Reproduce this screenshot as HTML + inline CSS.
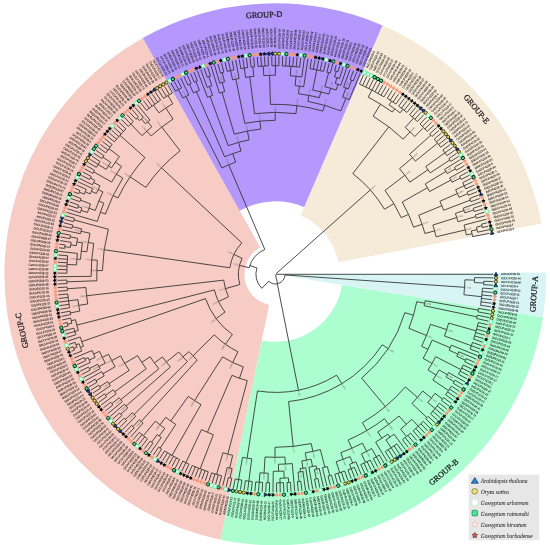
<!DOCTYPE html><html><head><meta charset="utf-8"><style>html,body{margin:0;padding:0;background:#fff;overflow:hidden}svg{display:block;will-change:transform;text-rendering:geometricPrecision}</style></head><body>
<svg width="550" height="545" viewBox="0 0 550 545">
<path d="M542.99 317.16A271.0 271.0 0 0 1 220.44 539.67L261.71 340.4A67.5 67.5 0 0 0 342.05 284.98Z" fill="#acfed0"/>
<path d="M220.44 539.67A271.0 271.0 0 0 1 142.78 37.97L260.23 247.27A31 31 0 0 0 269.11 304.66Z" fill="#f6ccc4"/>
<path d="M142.78 37.97A271.0 271.0 0 0 1 382.59 25.4L304.27 207.25A73 73 0 0 0 239.68 210.64Z" fill="#b598fc"/>
<path d="M382.59 25.4A271.0 271.0 0 0 1 541.6 223.52L338.27 262.31A64 64 0 0 0 300.71 215.52Z" fill="#f6ead8"/>
<path d="M546.39 272.41A271.0 271.0 0 0 1 542.99 317.16L284.88 275.82A9.6 9.6 0 0 0 285 274.23Z" fill="#d9f4f4"/>
<path d="M276 274.3L493.4 274.3M275.53 274.88L277.56 283.65M284.98 274.96A9.6 9.6 0 0 1 268.73 281.21M284.98 274.96L464.55 287.31M464.92 279.82A189.6 189.6 0 0 1 463.89 294.78M464.92 279.82L474.52 280.1M474.57 277.62A199.2 199.2 0 0 1 474.43 282.59M474.57 277.62L493.37 277.93M474.43 282.59L483.72 282.98M483.78 281.24A208.5 208.5 0 0 1 483.64 284.71M483.78 281.24L493.28 281.56M483.64 284.71L493.13 285.19M463.89 294.78L481.69 296.71M482.44 288.11A207.5 207.5 0 0 1 480.57 305.28M482.44 288.11L492.92 288.81M482.18 291.56L492.64 292.43M481.87 295L492.31 296.04M481.49 298.43L491.92 299.65M481.06 301.86L491.47 303.25M480.57 305.28L490.96 306.85M277.27 283.72L298.44 390.03M336.63 375.17A118 118 0 0 1 257.46 390.93M336.63 375.17L341.82 383.72M382.28 344.74A128 128 0 0 1 288.58 401.62M382.28 344.74L388.12 348.59M404.83 312.66A135 135 0 0 1 361.69 378.12M404.83 312.66L413.46 315.22M416.77 301.71A144 144 0 0 1 408.87 328.35M416.77 301.71L424.62 303.23M425.08 300.74A152 152 0 0 1 424.12 305.71M425.08 300.74L478.26 310.13M478.55 308.44A206 206 0 0 1 477.95 311.82M478.55 308.44L490.38 310.43M477.95 311.82L489.75 314.01M424.12 305.71L476.95 316.87M477.3 315.19A206 206 0 0 1 476.59 318.54M477.3 315.19L489.06 317.57M476.59 318.54L488.31 321.12M408.87 328.35L426.48 335.49M430.52 324.37A163 163 0 0 1 421.65 346.28M430.52 324.37L446.7 329.59M448.65 323.13A180 180 0 0 1 444.51 335.97M448.65 323.13L476.13 330.88M478.31 322.48A208.55 208.55 0 0 1 473.6 339.18M478.31 322.48L487.5 324.66M477.48 325.85L486.64 328.19M476.59 329.21L485.71 331.69M475.65 332.55L484.72 335.19M474.65 335.88L483.68 338.67M473.6 339.18L482.58 342.12M444.51 335.97L471.33 345.75M472.49 342.48A208.55 208.55 0 0 1 470.11 349M472.49 342.48L481.42 345.56M471.33 345.75L480.21 348.99M470.11 349L478.94 352.39M421.65 346.28L427.93 349.37M432.14 340.12A170 170 0 0 1 423.16 358.36M432.14 340.12L450.26 347.72M451.31 345.17A189.65 189.65 0 0 1 449.17 350.26M451.31 345.17L477.61 355.76M449.17 350.26L457.83 354.05M458.81 351.77A199.1 199.1 0 0 1 456.82 356.32M458.81 351.77L476.22 359.12M456.82 356.32L465.43 360.21M466.14 358.63A208.55 208.55 0 0 1 464.71 361.79M466.14 358.63L474.78 362.45M464.71 361.79L473.29 365.76M423.16 358.36L432.03 363.4M435.69 356.64A180.2 180.2 0 0 1 428.09 370M435.69 356.64L460.9 369.6M463.23 364.93A208.55 208.55 0 0 1 458.47 374.2M463.23 364.93L471.74 369.04M461.69 368.05L470.13 372.3M460.1 371.14L468.47 375.53M458.47 374.2L466.76 378.73M428.09 370L436.09 375.02M439.16 369.96A189.65 189.65 0 0 1 432.87 379.99M439.16 369.96L447.32 374.72M448.56 372.57A199.1 199.1 0 0 1 446.05 376.86M448.56 372.57L465 381.9M446.05 376.86L454.15 381.73M455.04 380.24A208.55 208.55 0 0 1 453.25 383.22M455.04 380.24L463.18 385.04M453.25 383.22L461.31 388.15M432.87 379.99L448.56 390.52M451.41 386.16A208.55 208.55 0 0 1 445.61 394.81M451.41 386.16L459.39 391.23M449.52 389.08L457.41 394.28M447.59 391.96L455.39 397.29M445.61 394.81L453.32 400.27M361.69 378.12L385.35 406.57M405.4 386.93A172 172 0 0 1 362.37 422.69M405.4 386.93L417.49 397.4M422.73 391.08A188 188 0 0 1 411.98 403.49M422.73 391.08L431.43 397.97M434.97 393.37A199.1 199.1 0 0 1 427.76 402.46M434.97 393.37L442.54 399.02M443.58 397.63A208.55 208.55 0 0 1 441.5 400.41M443.58 397.63L451.2 403.22M441.5 400.41L449.03 406.13M427.76 402.46L435 408.55M439.38 403.16A208.55 208.55 0 0 1 430.44 413.79M439.38 403.16L446.81 409M437.21 405.87L444.54 411.83M435 408.55L442.23 414.63M432.74 411.19L439.87 417.39M430.44 413.79L437.46 420.11M411.98 403.49L426.9 417.62M428.09 416.35A208.55 208.55 0 0 1 425.71 418.87M428.09 416.35L435.01 422.79M425.71 418.87L432.52 425.42M362.37 422.69L366.92 430.46M384.46 418.76A181 181 0 0 1 348.14 440.04M384.46 418.76L388.67 424.34M399 415.96A188 188 0 0 1 377.78 431.98M399 415.96L406.3 424.32M411.82 419.31A199.1 199.1 0 0 1 400.59 429.12M411.82 419.31L418.3 426.2M423.28 421.35A208.55 208.55 0 0 1 413.16 430.87M423.28 421.35L429.98 428.02M420.81 423.8L427.4 430.57M418.3 426.2L424.78 433.08M415.75 428.56L422.11 435.55M413.16 430.87L419.41 437.97M400.59 429.12L406.53 436.47M410.54 433.14A208.55 208.55 0 0 1 402.44 439.69M410.54 433.14L416.66 440.34M407.87 435.37L413.88 442.67M405.17 437.55L411.05 444.95M402.44 439.69L408.19 447.19M377.78 431.98L381.87 438.27M387.93 434.16A195.5 195.5 0 0 1 375.65 442.14M387.93 434.16L390 437.11M394.03 434.2A199.1 199.1 0 0 1 385.9 439.92M394.03 434.2L405.3 449.37M385.9 439.92L391.15 447.78M396.86 443.83A208.55 208.55 0 0 1 385.31 451.54M396.86 443.83L402.36 451.51M394.02 445.83L399.39 453.6M391.15 447.78L396.39 455.64M388.24 449.68L393.36 457.63M385.31 451.54L390.29 459.57M375.65 442.14L387.19 461.46M348.14 440.04L351.75 448.28M362.46 443.18A190 190 0 0 1 340.75 452.71M362.46 443.18L366.63 451.27M371.75 448.54A199.1 199.1 0 0 1 361.43 453.85M371.75 448.54L376.32 456.81M379.34 455.1A208.55 208.55 0 0 1 373.27 458.46M379.34 455.1L384.05 463.29M376.32 456.81L380.89 465.08M373.27 458.46L377.7 466.81M361.43 453.85L365.52 462.37M370.19 460.06A208.55 208.55 0 0 1 360.79 464.57M370.19 460.06L374.48 468.48M367.08 461.62L371.24 470.11M363.95 463.12L367.96 471.67M360.79 464.57L364.66 473.19M340.75 452.71L343.15 459.28M350.03 456.61A197 197 0 0 1 336.18 461.69M350.03 456.61L352.69 463.09M355.82 461.78A204 204 0 0 1 349.53 464.35M355.82 461.78L361.34 474.65M349.53 464.35L351.19 468.59M354.41 467.3A208.55 208.55 0 0 1 347.94 469.83M354.41 467.3L357.99 476.05M351.19 468.59L354.62 477.4M347.94 469.83L351.23 478.69M336.18 461.69L339.74 472.68M344.67 471.01A208.55 208.55 0 0 1 334.77 474.22M344.67 471.01L347.81 479.92M341.39 472.13L344.38 481.1M338.09 473.21L340.93 482.22M334.77 474.22L337.46 483.28M288.58 401.62L293.21 446.38M311.21 443.55A173 173 0 0 1 275.02 447.3M311.21 443.55L312.87 451.38M320.39 449.62A181 181 0 0 1 305.28 452.82M320.39 449.62L324.89 467.15M327.29 466.52A199.1 199.1 0 0 1 322.48 467.75M327.29 466.52L329.75 475.64M331.43 475.18A208.55 208.55 0 0 1 328.08 476.09M331.43 475.18L333.97 484.29M328.08 476.09L330.46 485.23M322.48 467.75L326.94 486.12M305.28 452.82L306.5 460.11M311.13 459.28A188.4 188.4 0 0 1 301.85 460.83M311.13 459.28L312.54 466.55M316.13 465.82A195.8 195.8 0 0 1 308.93 467.21M316.13 465.82L316.82 469.04M319.25 468.51A199.1 199.1 0 0 1 314.38 469.55M319.25 468.51L323.41 486.95M314.38 469.55L316.23 478.81M317.94 478.47A208.55 208.55 0 0 1 314.53 479.15M317.94 478.47L319.86 487.72M314.53 479.15L316.3 488.43M308.93 467.21L312.73 489.08M301.85 460.83L302.89 468.16M305.71 467.74A195.8 195.8 0 0 1 300.06 468.54M305.71 467.74L309.15 489.67M300.06 468.54L300.48 471.81M302.95 471.49A199.1 199.1 0 0 1 298.01 472.11M302.95 471.49L305.56 490.2M298.01 472.11L299.09 481.5M300.81 481.3A208.55 208.55 0 0 1 297.36 481.69M300.81 481.3L301.96 490.68M297.36 481.69L298.35 491.09M275.02 447.3L274.99 457.3M284.99 457.05A183 183 0 0 1 265 457M284.99 457.05L285.35 464.04M292.26 463.55A190 190 0 0 1 278.44 464.28M292.26 463.55L294.74 491.44M278.44 464.28L278.55 471.27M283.88 471.12A197 197 0 0 1 273.22 471.29M283.88 471.12L284.18 478.11M288.42 477.88A204 204 0 0 1 279.94 478.25M288.42 477.88L288.71 482.42M290.44 482.31A208.55 208.55 0 0 1 286.98 482.53M290.44 482.31L291.12 491.73M286.98 482.53L287.5 491.96M279.94 478.25L280.04 482.8M283.51 482.69A208.55 208.55 0 0 1 276.56 482.85M283.51 482.69L283.87 492.14M280.04 482.8L280.25 492.25M276.56 482.85L276.62 492.3M273.22 471.29L272.99 492.29M265 457L264.09 473.08M268.23 473.27A199.1 199.1 0 0 1 259.95 472.8M268.23 473.27L267.88 482.71M269.62 482.77A208.55 208.55 0 0 1 266.15 482.64M269.62 482.77L269.36 492.22M266.15 482.64L265.73 492.09M259.95 472.8L259.22 482.22M262.68 482.46A208.55 208.55 0 0 1 255.76 481.92M262.68 482.46L262.11 491.89M259.22 482.22L258.48 491.64M255.76 481.92L254.87 491.33M257.46 390.93L247.13 458.14M251.73 458.79A186 186 0 0 1 242.54 457.37M251.73 458.79L248.86 481.15M252.3 481.57A208.55 208.55 0 0 1 245.42 480.68M252.3 481.57L251.26 490.96M248.86 481.15L247.65 490.53M245.42 480.68L244.06 490.03M242.54 457.37L238.56 479.57M241.98 480.16A208.55 208.55 0 0 1 235.15 478.93M241.98 480.16L240.47 489.48M238.56 479.57L236.89 488.87M235.15 478.93L233.32 488.2M268.73 281.21L261.85 288.33M261.85 288.33A19.5 19.5 0 0 1 256.96 267.95M256.96 267.95L249.87 265.51M249.2 267.77A27 27 0 0 1 264.8 249.47M249.2 267.77L239.5 265.35M239.84 284.52A37 37 0 0 1 242.04 258.3M239.84 284.52L225.42 288.66M228.5 296.75A52 52 0 0 1 223.73 280.17M228.5 296.75L218.58 301.5M224.96 312.05A63 63 0 0 1 214.37 289.92M224.96 312.05L216.15 318.64M232.36 334.49A74 74 0 0 1 205.51 298.62M232.36 334.49L225.38 344.26M237.91 351.7A86 86 0 0 1 214.28 334.8M237.91 351.7L232.68 362.5M243.4 366.93A98 98 0 0 1 222.57 356.84M243.4 366.93L239.48 378.27M247.25 380.64A110 110 0 0 1 231.9 375.33M247.25 380.64L227.81 454.11M232.69 455.33A186 186 0 0 1 222.96 452.75M232.69 455.33L229.68 468.08M232.1 468.64A199.1 199.1 0 0 1 227.26 467.49M232.1 468.64L230.05 477.86M231.75 478.23A208.55 208.55 0 0 1 228.36 477.47M231.75 478.23L229.77 487.47M228.36 477.47L226.22 486.68M227.26 467.49L222.7 485.83M222.96 452.75L216.6 474.39M221.62 475.8A208.55 208.55 0 0 1 211.62 472.86M221.62 475.8L219.18 484.93M218.27 474.87L215.68 483.96M214.94 473.89L212.2 482.94M211.62 472.86L208.73 481.86M231.9 375.33L207.39 432.28M213.35 434.72A172 172 0 0 1 201.52 429.62M213.35 434.72L200.17 468.81M208.33 471.77A208.55 208.55 0 0 1 192.14 465.51M208.33 471.77L205.29 480.72M205.05 470.63L201.86 479.52M201.79 469.43L198.45 478.27M198.55 468.17L195.07 476.96M195.33 466.87L191.7 475.59M192.14 465.51L188.36 474.17M201.52 429.62L185.82 462.63M188.96 464.09A208.55 208.55 0 0 1 182.69 461.11M188.96 464.09L185.05 472.69M185.82 462.63L181.76 471.16M182.69 461.11L178.49 469.58M222.57 356.84L194.53 400.63M201.01 404.55A150 150 0 0 1 188.26 396.39M201.01 404.55L171.97 455.39M179.6 459.54A208.55 208.55 0 0 1 164.52 450.93M179.6 459.54L175.25 467.94M176.52 457.92L172.04 466.24M173.48 456.25L168.86 464.49M170.47 454.53L165.71 462.69M167.48 452.75L162.59 460.84M164.52 450.93L159.5 458.94M188.26 396.39L170.72 420.97M175.81 424.48A180.2 180.2 0 0 1 165.74 417.29M175.81 424.48L160.15 448.11M161.6 449.06A208.55 208.55 0 0 1 158.7 447.14M161.6 449.06L156.44 456.98M158.7 447.14L153.41 454.98M165.74 417.29L159.99 424.79M164.74 428.32A189.65 189.65 0 0 1 155.35 421.12M164.74 428.32L159.23 436M161.26 437.43A199.1 199.1 0 0 1 157.22 434.53M161.26 437.43L150.42 452.92M157.22 434.53L151.61 442.14M153.01 443.16A208.55 208.55 0 0 1 150.22 441.1M153.01 443.16L147.47 450.81M150.22 441.1L144.55 448.66M155.35 421.12L143.38 435.75M147.46 438.99A208.55 208.55 0 0 1 139.39 432.4M147.46 438.99L141.66 446.46M144.73 436.84L138.81 444.21M142.05 434.64L136 441.91M139.39 432.4L133.23 439.56M214.28 334.8L192.96 355.91M197.22 360A116 116 0 0 1 188.91 351.6M197.22 360L141.21 421.39M143.06 423.05A199.1 199.1 0 0 1 139.39 419.7M143.06 423.05L130.5 437.17M139.39 419.7L132.93 426.6M134.21 427.78A208.55 208.55 0 0 1 131.67 425.41M134.21 427.78L127.81 434.74M131.67 425.41L125.16 432.26M188.91 351.6L182.95 356.93M187.36 361.62A124 124 0 0 1 178.78 352.02M187.36 361.62L134.04 414.5M135.8 416.26A199.1 199.1 0 0 1 132.3 412.73M135.8 416.26L122.55 429.73M132.3 412.73L125.51 419.3M126.72 420.54A208.55 208.55 0 0 1 124.3 418.05M126.72 420.54L119.98 427.17M124.3 418.05L117.46 424.56M178.78 352.02L166.32 362.05M170.43 366.93A140 140 0 0 1 162.43 356.99M170.43 366.93L126.11 406.03M127.77 407.89A199.1 199.1 0 0 1 124.48 404.16M127.77 407.89L120.76 414.23M121.93 415.51A208.55 208.55 0 0 1 119.6 412.94M121.93 415.51L114.98 421.91M119.6 412.94L112.54 419.22M124.48 404.16L110.15 416.49M162.43 356.99L154.36 362.9M158.89 368.78A150 150 0 0 1 150.13 356.8M158.89 368.78L120.76 399.71M122.34 401.63A199.1 199.1 0 0 1 119.2 397.76M122.34 401.63L107.81 413.71M119.2 397.76L111.79 403.62M112.87 404.98A208.55 208.55 0 0 1 110.72 402.26M112.87 404.98L105.51 410.9M110.72 402.26L103.26 408.06M150.13 356.8L141.78 362.3M146.25 368.75A160 160 0 0 1 137.62 355.65M146.25 368.75L114.69 391.83M116.17 393.83A199.1 199.1 0 0 1 113.23 389.81M116.17 393.83L101.05 405.17M113.23 389.81L105.54 395.29M106.55 396.7A208.55 208.55 0 0 1 104.54 393.88M106.55 396.7L98.9 402.25M104.54 393.88L96.79 399.29M137.62 355.65L124.7 363.27M129.16 370.42A175 175 0 0 1 120.6 355.92M129.16 370.42L109.02 383.66M110.4 385.73A199.1 199.1 0 0 1 107.67 381.57M110.4 385.73L94.74 396.3M107.67 381.57L99.71 386.66M100.65 388.12A208.55 208.55 0 0 1 98.78 385.19M100.65 388.12L92.73 393.28M98.78 385.19L90.77 390.22M120.6 355.92L111.75 360.58M115.15 366.73A185 185 0 0 1 108.59 354.31M115.15 366.73L102.93 373.78M104.19 375.93A199.1 199.1 0 0 1 101.7 371.62M104.19 375.93L96.06 380.75M96.96 382.24A208.55 208.55 0 0 1 95.18 379.25M96.96 382.24L88.87 387.13M95.18 379.25L87.02 384.01M101.7 371.62L85.22 380.86M108.59 354.31L102.28 357.33M105.24 363.23A192 192 0 0 1 99.53 351.34M105.24 363.23L98.94 366.52M100.11 368.71A199.1 199.1 0 0 1 97.81 364.31M100.11 368.71L83.47 377.67M97.81 364.31L89.38 368.58M90.17 370.12A208.55 208.55 0 0 1 88.6 367.03M90.17 370.12L81.77 374.46M88.6 367.03L80.13 371.23M99.53 351.34L93.58 353.95M95.1 357.34A198.5 198.5 0 0 1 92.12 350.53M95.1 357.34L89.2 360.06M90.29 362.38A205 205 0 0 1 88.14 357.73M90.29 362.38L78.55 367.96M88.14 357.73L84.9 359.17M85.61 360.75A208.55 208.55 0 0 1 84.2 357.58M85.61 360.75L77.01 364.67M84.2 357.58L75.54 361.36M92.12 350.53L74.12 358.02M205.51 298.62L81.78 341.66M83.45 346.28A205 205 0 0 1 80.23 337.01M83.45 346.28L80.41 347.42M81.81 351.06A208.25 208.25 0 0 1 79.07 343.75M81.81 351.06L72.75 354.65M79.07 343.75L76.01 344.84M76.91 347.32A211.5 211.5 0 0 1 75.14 342.34M76.91 347.32L73.86 348.44M74.48 350.12A214.75 214.75 0 0 1 73.25 346.76M74.48 350.12L71.44 351.27M73.25 346.76L70.19 347.86M75.14 342.34L68.99 344.43M80.23 337.01L67.85 340.99M214.37 289.92L76.8 325.12M78.25 330.48A205 205 0 0 1 75.5 319.73M78.25 330.48L74.83 331.45M75.81 334.78A208.55 208.55 0 0 1 73.91 328.1M75.81 334.78L66.77 337.52M74.83 331.45L65.75 334.04M73.91 328.1L64.78 330.54M75.5 319.73L71.27 320.69M71.87 323.24A209.33 209.33 0 0 1 70.71 318.14M71.87 323.24L67.65 324.25M68.08 325.98A213.67 213.67 0 0 1 67.25 322.52M68.08 325.98L63.87 327.03M67.25 322.52L63.02 323.5M70.71 318.14L62.23 319.95M223.73 280.17L86.62 295.75M87.73 303.98A190 190 0 0 1 85.86 287.48M87.73 303.98L78.74 305.4M79.73 311.12A199.1 199.1 0 0 1 77.92 299.66M79.73 311.12L70.45 312.87M70.78 314.57A208.55 208.55 0 0 1 70.13 311.16M70.78 314.57L61.5 316.4M70.13 311.16L60.83 312.83M77.92 299.66L68.55 300.86M69.55 307.74A208.55 208.55 0 0 1 67.78 293.96M69.55 307.74L60.22 309.25M69.02 304.31L59.67 305.66M68.55 300.86L59.18 302.07M68.14 297.42L58.74 298.46M67.78 293.96L58.37 294.85M85.86 287.48L67.35 288.77M67.48 290.5A208.55 208.55 0 0 1 67.24 287.04M67.48 290.5L58.06 291.24M67.24 287.04L57.81 287.62M242.04 258.3L233.92 254.41M229.87 267.77A46 46 0 0 1 241.81 242.87M229.87 267.77L104.15 249.75M102.44 270.63A173 173 0 0 1 108.37 229.23M102.44 270.63L96.82 270.51M96.89 280.75A178.62 178.62 0 0 1 97.33 260.28M96.89 280.75L66.99 281.84M67.06 283.57A208.55 208.55 0 0 1 66.93 280.1M67.06 283.57L57.62 283.99M66.93 280.1L57.48 280.36M97.33 260.28L91.72 259.83M91.16 276.36A184.25 184.25 0 0 1 93.75 243.43M91.16 276.36L57.41 276.73M93.75 243.43L88.21 242.48M86.87 251.77A189.88 189.88 0 0 1 90.01 233.27M86.87 251.77L81.28 251.11M80.47 259.41A195.5 195.5 0 0 1 82.45 242.85M80.47 259.41L76.88 259.13M76.52 264.92A199.1 199.1 0 0 1 77.4 253.36M76.52 264.92L67.08 264.48M66.85 273.16A208.55 208.55 0 0 1 67.67 255.82M66.85 273.16L57.4 273.1M66.9 269.68L57.45 269.47M67.01 266.21L57.56 265.85M67.17 262.74L57.73 262.22M67.39 259.28L57.97 258.6M67.67 255.82L58.26 254.98M77.4 253.36L58.61 251.37M82.45 242.85L76.9 241.94M76.32 245.67A201.12 201.12 0 0 1 77.54 238.23M76.32 245.67L70.76 244.86M70.4 247.42A206.75 206.75 0 0 1 71.14 242.31M70.4 247.42L64.83 246.69M64.6 248.45A212.38 212.38 0 0 1 65.06 244.94M64.6 248.45L59.02 247.76M65.06 244.94L59.49 244.16M71.14 242.31L60.03 240.57M77.54 238.23L70.23 236.9M69.93 238.61A208.55 208.55 0 0 1 70.55 235.19M69.93 238.61L60.62 236.99M70.55 235.19L61.27 233.42M90.01 233.27L81 231.28M80.48 233.71A199.1 199.1 0 0 1 81.56 228.86M80.48 233.71L61.98 229.86M81.56 228.86L72.36 226.7M71.97 228.39A208.55 208.55 0 0 1 72.76 225.01M71.97 228.39L62.75 226.31M72.76 225.01L63.58 222.78M108.37 229.23L74.05 219.96M73.61 221.64A208.55 208.55 0 0 1 74.51 218.29M73.61 221.64L64.46 219.26M74.51 218.29L65.41 215.75M241.81 242.87L161.48 167.73M145.83 187.42A156 156 0 0 1 180.09 150.8M145.83 187.42L130.05 176.84M117.94 197.94A175 175 0 0 1 144.97 157.62M117.94 197.94L113.1 195.59M105.4 214A180.38 180.38 0 0 1 122.79 178.14M105.4 214L100.34 212.21M97.33 221.44A185.75 185.75 0 0 1 103.82 203.14M97.33 221.44L66.41 212.26M103.82 203.14L98.86 201.08M95.25 210.46A191.12 191.12 0 0 1 102.95 191.91M95.25 210.46L88.92 208.21M87.46 212.5A197.84 197.84 0 0 1 90.48 203.96M87.46 212.5L81.07 210.4M80.29 212.83A204.56 204.56 0 0 1 81.89 207.98M80.29 212.83L67.47 208.79M81.89 207.98L78.12 206.68M77.56 208.33A208.55 208.55 0 0 1 78.69 205.04M77.56 208.33L68.59 205.34M78.69 205.04L69.77 201.91M90.48 203.96L80.48 200.15M79.87 201.78A208.55 208.55 0 0 1 81.1 198.53M79.87 201.78L71.01 198.49M81.1 198.53L72.3 195.1M102.95 191.91L98.1 189.59M96.29 193.49A196.5 196.5 0 0 1 99.99 185.74M96.29 193.49L91.39 191.27M90.2 193.96A201.88 201.88 0 0 1 92.62 188.6M90.2 193.96L85.27 191.83M84.25 194.21A207.25 207.25 0 0 1 86.31 189.46M84.25 194.21L79.29 192.13M78.62 193.76A212.62 212.62 0 0 1 79.99 190.5M78.62 193.76L73.64 191.73M79.99 190.5L75.05 188.38M86.31 189.46L76.5 185.06M92.62 188.6L78.02 181.76M99.99 185.74L93.59 182.51M92.46 184.78A203.67 203.67 0 0 1 94.75 180.24M92.46 184.78L79.59 178.48M94.75 180.24L90.42 177.99M89.63 179.53A208.55 208.55 0 0 1 91.23 176.45M89.63 179.53L81.21 175.24M91.23 176.45L82.88 172.02M122.79 178.14L116.43 174.13M111.72 182.02A187.9 187.9 0 0 1 121.51 166.48M111.72 182.02L93.73 171.88M92.88 173.4A208.55 208.55 0 0 1 94.59 170.37M92.88 173.4L84.61 168.83M94.59 170.37L86.4 165.66M121.51 166.48L115.35 162.16M111.48 167.89A195.43 195.43 0 0 1 119.42 156.57M111.48 167.89L108.4 165.89M106.18 169.39A199.1 199.1 0 0 1 110.69 162.44M106.18 169.39L98.15 164.41M96.35 167.38A208.55 208.55 0 0 1 100 161.47M96.35 167.38L88.23 162.53M98.15 164.41L90.12 159.43M100 161.47L92.06 156.36M110.69 162.44L102.88 157.13M101.91 158.57A208.55 208.55 0 0 1 103.86 155.7M101.91 158.57L94.05 153.33M103.86 155.7L96.09 150.32M119.42 156.57L108.94 148.66M105.86 152.86A208.55 208.55 0 0 1 112.13 144.54M105.86 152.86L98.17 147.35M107.9 150.05L100.31 144.42M109.99 147.28L102.5 141.52M112.13 144.54L104.73 138.66M144.97 157.62L119.97 135.25M114.32 141.84A208.55 208.55 0 0 1 125.89 128.91M114.32 141.84L107.02 135.84M116.54 139.18L109.35 133.06M118.82 136.55L111.72 130.31M121.13 133.96L114.14 127.61M123.49 131.42L116.61 124.94M125.89 128.91L119.11 122.32M180.09 150.8L161.76 127.05M151.13 135.91A186 186 0 0 1 173.02 119.01M151.13 135.91L146.85 131.15M142.01 135.65A192.4 192.4 0 0 1 151.84 126.82M142.01 135.65L130.81 124.01M128.33 126.44A208.55 208.55 0 0 1 133.34 121.62M128.33 126.44L121.67 119.74M130.81 124.01L124.26 117.2M133.34 121.62L126.9 114.7M151.84 126.82L147.73 121.91M145.52 123.79A198.8 198.8 0 0 1 149.96 120.07M145.52 123.79L141.34 118.94M139.41 120.63A205.2 205.2 0 0 1 143.29 117.28M139.41 120.63L137.19 118.12M135.9 119.28A208.55 208.55 0 0 1 138.5 116.98M135.9 119.28L129.58 112.25M138.5 116.98L132.29 109.85M143.29 117.28L135.05 107.49M149.96 120.07L137.85 105.17M173.02 119.01L165.81 108.08M158.98 112.78A199.1 199.1 0 0 1 172.82 103.66M158.98 112.78L153.46 105.11M146.52 110.34A208.55 208.55 0 0 1 160.61 100.19M146.52 110.34L140.68 102.91M149.27 108.21L143.56 100.69M152.06 106.14L146.47 98.52M154.87 104.11L149.41 96.39M157.72 102.12L152.39 94.32M160.61 100.19L155.4 92.3M172.82 103.66L167.95 95.56M163.52 98.3A208.55 208.55 0 0 1 172.45 92.93M163.52 98.3L158.45 90.32M166.47 96.46L161.53 88.4M169.44 94.67L164.64 86.53M172.45 92.93L167.78 84.71M264.8 249.47L228.7 164.85M221.9 168.01A119 119 0 0 1 235.69 162.12M221.9 168.01L185.88 96.46M182.93 97.97A199.1 199.1 0 0 1 188.86 94.99M182.93 97.97L178.54 89.61M175.48 91.24A208.55 208.55 0 0 1 181.63 88.02M175.48 91.24L170.96 82.95M178.54 89.61L174.16 81.24M181.63 88.02L177.38 79.58M188.86 94.99L180.64 77.97M235.69 162.12L232.69 153.64M224.61 156.81A128 128 0 0 1 240.97 151.02M224.61 156.81L196.39 91.55M193.36 92.89A199.1 199.1 0 0 1 199.45 90.26M193.36 92.89L189.47 84.28M187.89 85A208.55 208.55 0 0 1 191.05 83.57M187.89 85L183.92 76.42M191.05 83.57L187.23 74.93M199.45 90.26L195.84 81.52M194.24 82.19A208.55 208.55 0 0 1 197.45 80.87M194.24 82.19L190.56 73.49M197.45 80.87L193.92 72.1M240.97 151.02L238.55 142.35M228.18 145.69A137 137 0 0 1 249.14 139.84M228.18 145.69L210.04 96.27M207.45 97.24A189.65 189.65 0 0 1 212.64 95.34M207.45 97.24L197.3 70.77M212.64 95.34L209.51 86.42M207.17 87.26A199.1 199.1 0 0 1 211.86 85.61M207.17 87.26L200.69 69.5M211.86 85.61L208.85 76.65M207.21 77.21A208.55 208.55 0 0 1 210.5 76.11M207.21 77.21L204.12 68.28M210.5 76.11L207.56 67.13M249.14 139.84L247.41 131.01M234.32 134.2A146 146 0 0 1 260.75 129.04M234.32 134.2L222.03 92.31M219.39 93.11A189.65 189.65 0 0 1 224.69 91.56M219.39 93.11L211.01 66.03M224.69 91.56L222.16 82.45M219.77 83.13A199.1 199.1 0 0 1 224.56 81.8M219.77 83.13L214.49 64.98M224.56 81.8L222.15 72.66M220.47 73.11A208.55 208.55 0 0 1 223.83 72.23M220.47 73.11L217.98 64M223.83 72.23L221.49 63.07M260.75 129.04L259.95 121.08M244.82 123.37A154 154 0 0 1 275.23 120.3M244.82 123.37L235.86 79.17M232.62 79.85A199.1 199.1 0 0 1 239.12 78.53M232.62 79.85L230.59 70.62M227.2 71.4A208.55 208.55 0 0 1 233.99 69.9M227.2 71.4L225.02 62.2M230.59 70.62L228.56 61.39M233.99 69.9L232.11 60.64M239.12 78.53L235.67 59.95M275.23 120.3L275.22 112.3M254.54 113.65A162 162 0 0 1 295.91 113.6M254.54 113.65L249.76 76.86M245.65 77.43A199.1 199.1 0 0 1 253.87 76.37M245.65 77.43L244.24 68.09M240.81 68.64A208.55 208.55 0 0 1 247.68 67.6M240.81 68.64L239.25 59.32M244.24 68.09L242.83 58.75M247.68 67.6L246.42 58.23M253.87 76.37L252.85 66.97M251.13 67.17A208.55 208.55 0 0 1 254.58 66.79M251.13 67.17L250.03 57.78M254.58 66.79L253.64 57.39M295.91 113.6L296.92 105.67M270.43 104.37A170 170 0 0 1 322.89 111.07M270.43 104.37L269.58 75.29M263.78 75.54A199.1 199.1 0 0 1 275.38 75.2M263.78 75.54L263.23 66.11M258.04 66.47A208.55 208.55 0 0 1 268.44 65.87M258.04 66.47L257.25 57.06M261.5 66.21L260.87 56.78M264.97 66.01L264.49 56.57M268.44 65.87L268.12 56.42M275.38 75.2L275.38 65.75M271.91 65.78A208.55 208.55 0 0 1 278.85 65.78M271.91 65.78L271.75 56.33M275.38 65.75L275.38 56.3M278.85 65.78L279.01 56.33M322.89 111.07L324.56 105.31M307.84 101.32A176 176 0 0 1 340.81 110.91M307.84 101.32L308.95 95.42M298.43 93.76A182 182 0 0 1 319.36 97.69M298.43 93.76L299.4 86.17M295.08 85.67A189.65 189.65 0 0 1 303.7 86.77M295.08 85.67L296.06 76.28M290.29 75.76A199.1 199.1 0 0 1 301.82 76.96M290.29 75.76L290.99 66.33M282.32 65.86A208.55 208.55 0 0 1 299.63 67.16M282.32 65.86L282.64 56.42M285.79 66.01L286.26 56.57M289.26 66.21L289.89 56.78M292.72 66.47L293.51 57.05M296.18 66.79L297.12 57.38M299.63 67.16L300.73 57.78M301.82 76.96L304.33 58.23M303.7 86.77L307.93 58.74M319.36 97.69L320.81 91.87M312.7 90.04A188 188 0 0 1 328.83 94.05M312.7 90.04L316.77 69.9M309.95 68.63A208.55 208.55 0 0 1 323.56 71.39M309.95 68.63L311.51 59.31M313.37 69.23L315.09 59.94M316.77 69.9L318.65 60.63M320.17 70.61L322.2 61.38M323.56 71.39L325.74 62.19M328.83 94.05L330.54 88.3M324.9 86.72A194 194 0 0 1 336.12 90.05M324.9 86.72L328.61 72.65M326.93 72.22A208.55 208.55 0 0 1 330.29 73.1M326.93 72.22L329.26 63.06M330.29 73.1L332.77 63.99M336.12 90.05L338 84.35M335.23 83.46A200 200 0 0 1 340.76 85.28M335.23 83.46L337.02 77.73M334.56 76.98A206 206 0 0 1 339.47 78.52M334.56 76.98L336.29 71.23M334.59 70.73A212 212 0 0 1 337.97 71.75M334.59 70.73L336.27 64.97M337.97 71.75L339.74 66.01M339.47 78.52L343.2 67.11M340.76 85.28L346.64 68.27M340.81 110.91L345.89 98.23M342.58 96.95A189.65 189.65 0 0 1 349.17 99.59M342.58 96.95L345.92 88.11M343.59 87.24A199.1 199.1 0 0 1 348.24 89M343.59 87.24L350.07 69.49M348.24 89L351.7 80.21M350.08 79.58A208.55 208.55 0 0 1 353.31 80.85M350.08 79.58L353.47 70.76M353.31 80.85L356.84 72.08M349.17 99.59L360.2 73.47M275.85 273.9L370.32 189.92M352.82 173.62A127 127 0 0 1 384.46 209.22M352.82 173.62L388.78 126.85M373.18 116.08A186 186 0 0 1 403.21 139.16M373.18 116.08L380.54 104.17M368.25 97.16A200 200 0 0 1 392.31 112.03M368.25 97.16L371.96 90.07M359.49 84.06A208 208 0 0 1 384.01 96.91M359.49 84.06L363.53 74.91M362.64 85.48L366.84 76.4M365.78 86.96L370.12 77.95M368.88 88.49L373.38 79.56M371.96 90.07L376.61 81.22M375.02 91.71L379.81 82.93M378.04 93.39L382.98 84.69M381.04 95.12L386.12 86.51M384.01 96.91L389.23 88.38M392.31 112.03L394.65 108.78M389.07 104.9A204 204 0 0 1 400.09 112.84M389.07 104.9L391.61 101.13M387.24 98.28A208.55 208.55 0 0 1 395.89 104.08M387.24 98.28L392.31 90.3M390.16 100.16L395.36 92.27M393.04 102.1L398.37 94.3M395.89 104.08L401.35 96.37M400.09 112.84L402.87 109.24M398.71 106.11A208.55 208.55 0 0 1 406.96 112.48M398.71 106.11L404.3 98.49M401.5 108.19L407.21 100.66M404.24 110.31L410.08 102.88M406.96 112.48L412.92 105.15M403.21 139.16L410.08 131.9M405.26 127.49A196 196 0 0 1 414.74 136.46M405.26 127.49L413.58 118.09M409.63 114.69A208.55 208.55 0 0 1 417.43 121.59M409.63 114.69L415.71 107.46M412.27 116.95L418.47 109.82M414.87 119.25L421.19 112.22M417.43 121.59L423.87 114.67M414.74 136.46L423.67 127.64M419.96 123.98A208.55 208.55 0 0 1 427.28 131.39M419.96 123.98L426.51 117.17M422.44 126.41L429.1 119.71M424.88 128.88L431.66 122.29M427.28 131.39L434.17 124.91M384.46 209.22L393.9 203.58M385.01 190.46A138 138 0 0 1 401.23 217.63M385.01 190.46L404.87 175.27M399.54 168.67A163 163 0 0 1 409.84 182.13M399.54 168.67L412.49 157.65M409.53 154.26A180 180 0 0 1 415.36 161.11M409.53 154.26L430.8 135.22M429.64 133.93A208.55 208.55 0 0 1 431.96 136.52M429.64 133.93L436.63 127.57M431.96 136.52L439.05 130.28M415.36 161.11L437.56 143.16M434.23 139.15A208.55 208.55 0 0 1 440.78 147.25M434.23 139.15L441.43 133.02M436.46 141.81L443.76 135.81M438.64 144.51L446.04 138.63M440.78 147.25L448.27 141.49M409.84 182.13L427.99 169.69M425.78 166.54A185 185 0 0 1 430.13 172.89M425.78 166.54L444.92 152.82M442.87 150.02A208.55 208.55 0 0 1 446.92 155.66M442.87 150.02L450.46 144.39M444.92 152.82L452.6 147.32M446.92 155.66L454.69 150.29M430.13 172.89L449.83 159.98M448.87 158.54A208.55 208.55 0 0 1 450.77 161.44M448.87 158.54L456.73 153.29M450.77 161.44L458.72 156.33M401.23 217.63L408.52 214.35M402.27 202.05A146 146 0 0 1 413.59 227.19M402.27 202.05L427.47 187.69M425.26 183.92A175 175 0 0 1 429.58 191.52M425.26 183.92L445.89 171.48M444.6 169.36A199.1 199.1 0 0 1 447.17 173.61M444.6 169.36L460.66 159.39M447.17 173.61L455.32 168.84M454.43 167.34A208.55 208.55 0 0 1 456.19 170.34M454.43 167.34L462.55 162.5M456.19 170.34L464.38 165.63M429.58 191.52L450.82 180.12M449.63 177.94A199.1 199.1 0 0 1 451.98 182.32M449.63 177.94L466.17 168.79M451.98 182.32L460.36 177.95M459.55 176.41A208.55 208.55 0 0 1 461.16 179.49M459.55 176.41L467.9 171.98M461.16 179.49L469.57 175.2M413.59 227.19L422.11 224.28M418.72 215.26A155 155 0 0 1 424.93 233.5M418.72 215.26L441.83 205.74M439.92 201.27A180 180 0 0 1 443.63 210.27M439.92 201.27L457.37 193.52M455.65 189.75A199.1 199.1 0 0 1 459.02 197.32M455.65 189.75L464.21 185.73M462.71 182.6A208.55 208.55 0 0 1 465.66 188.89M462.71 182.6L471.2 178.45M464.21 185.73L472.76 181.72M465.66 188.89L474.28 185.02M459.02 197.32L467.73 193.67M467.05 192.07A208.55 208.55 0 0 1 468.4 195.27M467.05 192.07L475.74 188.34M468.4 195.27L477.14 191.69M443.63 210.27L470.31 200.11M469.69 198.49A208.55 208.55 0 0 1 470.92 201.74M469.69 198.49L478.49 195.06M470.92 201.74L479.78 198.45M424.93 233.5L434.58 230.87M432.87 225.02A165 165 0 0 1 436.08 236.77M432.87 225.02L456.73 217.55M455.38 213.41A190 190 0 0 1 457.98 221.71M455.38 213.41L464 210.5M463.19 208.15A199.1 199.1 0 0 1 464.78 212.86M463.19 208.15L481.01 201.87M464.78 212.86L473.77 209.94M473.23 208.29A208.55 208.55 0 0 1 474.3 211.59M473.23 208.29L482.19 205.3M474.3 211.59L483.31 208.75M457.98 221.71L475.8 216.58M475.32 214.91A208.55 208.55 0 0 1 476.28 218.25M475.32 214.91L484.37 212.22M476.28 218.25L485.38 215.71M436.08 236.77L465.29 229.95M464.07 225.03A195 195 0 0 1 466.38 234.91M464.07 225.03L486.33 219.22M466.38 234.91L472.01 233.75M471.4 230.89A200.75 200.75 0 0 1 472.58 236.61M471.4 230.89L477.01 229.64M476.44 227.13A206.5 206.5 0 0 1 477.56 232.16M476.44 227.13L482.04 225.81M481.63 224.1A212.25 212.25 0 0 1 482.43 227.54M481.63 224.1L487.21 222.74M482.43 227.54L488.04 226.27M477.56 232.16L488.81 229.82M472.58 236.61L489.52 233.38" fill="none" stroke="#2e2e2e" stroke-width="0.85"/>
<g font-family="Liberation Sans, sans-serif" font-size="2.3" fill="#6a6a6a"><text transform="translate(465.35 287.37) rotate(3.94)" dy="0.8">0.934</text><text transform="translate(298.59 390.81) rotate(78.74)" dy="0.8">0.926</text><text transform="translate(342.24 384.4) rotate(58.74)" dy="0.8">0.878</text><text transform="translate(388.79 349.03) rotate(33.39)" dy="0.8">0.944</text><text transform="translate(425.41 303.38) rotate(10.97)" dy="0.8">0.896</text><text transform="translate(427.22 335.79) rotate(22.05)" dy="0.8">0.971</text><text transform="translate(447.46 329.84) rotate(17.89)" dy="0.8">0.856</text><text transform="translate(458.56 354.37) rotate(23.61)" dy="0.8">0.942</text><text transform="translate(432.72 363.8) rotate(29.63)" dy="0.8">0.852</text><text transform="translate(436.77 375.45) rotate(32.08)" dy="0.8">0.859</text><text transform="translate(448.01 375.13) rotate(30.29)" dy="0.8">0.886</text><text transform="translate(385.86 407.19) rotate(50.27)" dy="0.8">0.920</text><text transform="translate(418.1 397.93) rotate(40.9)" dy="0.8">0.976</text><text transform="translate(432.06 398.47) rotate(38.4)" dy="0.8">0.946</text><text transform="translate(367.32 431.15) rotate(59.63)" dy="0.8">0.949</text><text transform="translate(389.16 424.98) rotate(52.95)" dy="0.8">0.892</text><text transform="translate(352.07 449.02) rotate(66.31)" dy="0.8">0.897</text><text transform="translate(367 451.98) rotate(62.73)" dy="0.8">0.893</text><text transform="translate(343.43 460.03) rotate(69.88)" dy="0.8">0.965</text><text transform="translate(293.3 447.18) rotate(84.09)" dy="0.8">0.977</text><text transform="translate(313.03 452.16) rotate(78.05)" dy="0.8">0.994</text><text transform="translate(306.64 460.9) rotate(80.5)" dy="0.8">0.881</text><text transform="translate(316.99 469.83) rotate(77.99)" dy="0.8">0.997</text><text transform="translate(303 468.95) rotate(81.93)" dy="0.8">0.861</text><text transform="translate(300.58 472.61) rotate(82.76)" dy="0.8">0.967</text><text transform="translate(274.99 458.1) rotate(270.13)" text-anchor="end" dy="0.8">0.863</text><text transform="translate(285.4 464.84) rotate(87)" dy="0.8">0.995</text><text transform="translate(264.04 473.88) rotate(273.26)" text-anchor="end" dy="0.8">0.887</text><text transform="translate(247 458.93) rotate(278.74)" text-anchor="end" dy="0.8">0.859</text><text transform="translate(238.72 265.16) rotate(374)" text-anchor="end" dy="0.8">0.934</text><text transform="translate(224.65 288.88) rotate(343.97)" text-anchor="end" dy="0.8">0.879</text><text transform="translate(217.85 301.85) rotate(334.42)" text-anchor="end" dy="0.8">0.870</text><text transform="translate(215.51 319.12) rotate(323.19)" text-anchor="end" dy="0.8">0.867</text><text transform="translate(224.91 344.91) rotate(305.57)" text-anchor="end" dy="0.8">0.882</text><text transform="translate(232.33 363.22) rotate(295.84)" text-anchor="end" dy="0.8">0.996</text><text transform="translate(227.6 454.88) rotate(284.83)" text-anchor="end" dy="0.8">0.983</text><text transform="translate(229.5 468.86) rotate(283.28)" text-anchor="end" dy="0.8">0.909</text><text transform="translate(194.1 401.31) rotate(302.62)" text-anchor="end" dy="0.8">0.865</text><text transform="translate(159.5 425.43) rotate(307.48)" text-anchor="end" dy="0.8">0.889</text><text transform="translate(192.39 356.47) rotate(315.29)" text-anchor="end" dy="0.8">0.894</text><text transform="translate(140.68 421.98) rotate(312.37)" text-anchor="end" dy="0.8">0.864</text><text transform="translate(182.35 357.47) rotate(318.21)" text-anchor="end" dy="0.8">0.886</text><text transform="translate(133.47 415.07) rotate(315.24)" text-anchor="end" dy="0.8">0.906</text><text transform="translate(165.69 362.55) rotate(321.19)" text-anchor="end" dy="0.8">0.994</text><text transform="translate(125.51 406.56) rotate(318.57)" text-anchor="end" dy="0.8">0.936</text><text transform="translate(120.14 400.21) rotate(320.96)" text-anchor="end" dy="0.8">0.873</text><text transform="translate(124.02 363.68) rotate(329.44)" text-anchor="end" dy="0.8">0.878</text><text transform="translate(108.35 384.1) rotate(326.68)" text-anchor="end" dy="0.8">0.991</text><text transform="translate(111.05 360.96) rotate(332.2)" text-anchor="end" dy="0.8">0.993</text><text transform="translate(101.56 357.68) rotate(334.38)" text-anchor="end" dy="0.8">0.913</text><text transform="translate(98.23 366.89) rotate(332.41)" text-anchor="end" dy="0.8">0.856</text><text transform="translate(85.82 295.84) rotate(353.52)" text-anchor="end" dy="0.8">0.956</text><text transform="translate(77.95 305.53) rotate(351.01)" text-anchor="end" dy="0.8">0.974</text><text transform="translate(233.2 254.06) rotate(385.63)" text-anchor="end" dy="0.8">0.894</text><text transform="translate(103.36 249.63) rotate(368.16)" text-anchor="end" dy="0.8">0.958</text><text transform="translate(96.02 270.49) rotate(361.22)" text-anchor="end" dy="0.8">0.884</text><text transform="translate(90.92 259.77) rotate(364.5)" text-anchor="end" dy="0.8">0.978</text><text transform="translate(87.42 242.35) rotate(369.65)" text-anchor="end" dy="0.8">0.892</text><text transform="translate(76.08 259.07) rotate(364.37)" text-anchor="end" dy="0.8">0.852</text><text transform="translate(80.22 231.11) rotate(372.48)" text-anchor="end" dy="0.8">0.917</text><text transform="translate(160.89 167.18) rotate(403.09)" text-anchor="end" dy="0.8">0.876</text><text transform="translate(129.39 176.39) rotate(393.84)" text-anchor="end" dy="0.8">0.936</text><text transform="translate(112.38 195.24) rotate(385.87)" text-anchor="end" dy="0.8">0.904</text><text transform="translate(88.17 207.94) rotate(379.51)" text-anchor="end" dy="0.8">0.954</text><text transform="translate(97.37 189.25) rotate(385.54)" text-anchor="end" dy="0.8">0.871</text><text transform="translate(115.75 173.7) rotate(392.22)" text-anchor="end" dy="0.8">0.853</text><text transform="translate(107.73 165.46) rotate(392.99)" text-anchor="end" dy="0.8">0.994</text><text transform="translate(161.27 126.42) rotate(412.34)" text-anchor="end" dy="0.8">0.945</text><text transform="translate(146.31 130.55) rotate(408.08)" text-anchor="end" dy="0.8">0.960</text><text transform="translate(147.22 121.3) rotate(410.04)" text-anchor="end" dy="0.8">1.000</text><text transform="translate(165.37 107.41) rotate(416.6)" text-anchor="end" dy="0.8">0.932</text><text transform="translate(228.39 164.11) rotate(426.89)" text-anchor="end" dy="0.8">0.985</text><text transform="translate(185.52 95.74) rotate(423.28)" text-anchor="end" dy="0.8">0.956</text><text transform="translate(238.33 141.58) rotate(434.39)" text-anchor="end" dy="0.8">0.953</text><text transform="translate(247.26 130.22) rotate(438.95)" text-anchor="end" dy="0.8">0.969</text><text transform="translate(221.95 81.68) rotate(434.49)" text-anchor="end" dy="0.8">0.944</text><text transform="translate(259.87 120.28) rotate(444.24)" text-anchor="end" dy="0.8">0.937</text><text transform="translate(235.7 78.38) rotate(438.55)" text-anchor="end" dy="0.8">0.862</text><text transform="translate(275.22 111.5) rotate(449.94)" text-anchor="end" dy="0.8">0.999</text><text transform="translate(297.02 104.87) rotate(277.27)" dy="0.8">0.908</text><text transform="translate(269.56 74.49) rotate(448.32)" text-anchor="end" dy="0.8">0.937</text><text transform="translate(324.79 104.54) rotate(286.22)" dy="0.8">0.976</text><text transform="translate(309.1 94.63) rotate(280.62)" dy="0.8">0.963</text><text transform="translate(299.5 85.38) rotate(277.27)" dy="0.8">0.940</text><text transform="translate(296.15 75.48) rotate(275.96)" dy="0.8">0.885</text><text transform="translate(321 91.09) rotate(283.98)" dy="0.8">0.925</text><text transform="translate(330.76 87.53) rotate(286.51)" dy="0.8">0.988</text><text transform="translate(346.18 97.49) rotate(291.82)" dy="0.8">0.852</text><text transform="translate(346.21 87.36) rotate(290.74)" dy="0.8">0.952</text><text transform="translate(370.92 189.39) rotate(318.37)" dy="0.8">0.875</text><text transform="translate(410.63 131.32) rotate(313.4)" dy="0.8">0.916</text><text transform="translate(405.5 174.78) rotate(322.59)" dy="0.8">0.950</text><text transform="translate(413.1 157.13) rotate(319.6)" dy="0.8">0.915</text><text transform="translate(446.58 171.06) rotate(328.91)" dy="0.8">0.937</text><text transform="translate(451.52 179.74) rotate(331.77)" dy="0.8">0.870</text><text transform="translate(422.87 224.03) rotate(341.17)" dy="0.8">0.976</text><text transform="translate(458.11 193.19) rotate(336.06)" dy="0.8">0.993</text><text transform="translate(435.35 230.66) rotate(344.74)" dy="0.8">0.875</text><text transform="translate(457.49 217.31) rotate(342.62)" dy="0.8">0.891</text><text transform="translate(464.76 210.24) rotate(341.31)" dy="0.8">0.912</text><text transform="translate(466.07 229.77) rotate(346.85)" dy="0.8">0.924</text></g>
<path d="M496 272.3L494.1 275.7L497.9 275.7Z" fill="#12408a" stroke="#050a1e" stroke-width="0.7"/><circle cx="495.97" cy="277.97" r="1.6" fill="#e8d850" stroke="#1a1a08" stroke-width="0.8"/><circle cx="495.88" cy="281.65" r="1.6" fill="#e8d850" stroke="#1a1a08" stroke-width="0.8"/><path d="M495.82 283.32L493.76 286.62L497.55 286.81Z" fill="#12408a" stroke="#050a1e" stroke-width="0.7"/><rect x="493.81" y="287.28" width="3.4" height="3.4" rx="1" transform="rotate(3.82 495.51 288.98)" fill="#f4fff8" stroke="#4ef098" stroke-width="0.9"/><rect x="493.64" y="291.05" width="3.2" height="3.2" rx="1.3" transform="rotate(4.77 495.24 292.65)" fill="#36e88c" stroke="#06140c" stroke-width="0.9"/><polygon points="496.99,296.51 495.98,297.27 495.35,298.35 494.32,297.63 493.09,297.36 493.46,296.16 493.33,294.91 494.59,294.89 495.74,294.38 496.15,295.57" fill="#f59a7e"/><polygon points="496.59,300.2 495.57,300.94 494.92,302.01 493.9,301.27 492.67,300.98 493.06,299.79 492.96,298.53 494.22,298.53 495.38,298.05 495.77,299.24" fill="#f59a7e"/><polygon points="496.28,303.9 494.91,304.43 494.45,305.81 493.53,304.68 492.07,304.67 492.86,303.44 492.42,302.05 493.83,302.42 495.02,301.57 495.1,303.03" fill="#0a0a0a"/><polygon points="495.75,307.57 494.38,308.08 493.9,309.46 492.99,308.31 491.53,308.27 492.34,307.06 491.93,305.66 493.33,306.05 494.53,305.22 494.59,306.68" fill="#0a0a0a"/><circle cx="492.95" cy="310.86" r="1.6" fill="#e8d850" stroke="#1a1a08" stroke-width="0.8"/><circle cx="492.31" cy="314.48" r="1.6" fill="#e8d850" stroke="#1a1a08" stroke-width="0.8"/><circle cx="491.61" cy="318.09" r="1.6" fill="#e8d850" stroke="#1a1a08" stroke-width="0.8"/><rect x="489.15" y="319.98" width="3.4" height="3.4" rx="1" transform="rotate(12.4 490.85 321.68)" fill="#f4fff8" stroke="#4ef098" stroke-width="0.9"/><polygon points="492.08,325.75 490.98,326.36 490.2,327.35 489.28,326.5 488.09,326.07 488.62,324.93 488.67,323.67 489.92,323.82 491.13,323.47 491.37,324.7" fill="#f59a7e"/><polygon points="491.33,329.38 489.92,329.75 489.3,331.07 488.51,329.84 487.06,329.66 487.99,328.53 487.72,327.1 489.08,327.63 490.36,326.93 490.27,328.38" fill="#0a0a0a"/><rect x="486.62" y="330.78" width="3.2" height="3.2" rx="1.3" transform="rotate(15.26 488.22 332.38)" fill="#36e88c" stroke="#06140c" stroke-width="0.9"/><polygon points="489.24,336.5 488.11,337.06 487.29,338.01 486.41,337.11 485.24,336.63 485.83,335.51 485.93,334.25 487.18,334.47 488.4,334.18 488.59,335.42" fill="#f59a7e"/><polygon points="488.32,340.1 486.88,340.39 486.2,341.68 485.47,340.41 484.04,340.16 485.02,339.08 484.82,337.63 486.15,338.23 487.46,337.59 487.3,339.05" fill="#0a0a0a"/><rect x="483.35" y="341.23" width="3.4" height="3.4" rx="1" transform="rotate(18.13 485.05 342.93)" fill="#f4fff8" stroke="#4ef098" stroke-width="0.9"/><polygon points="485.86,347.1 484.71,347.6 483.84,348.51 483.01,347.57 481.87,347.03 482.51,345.94 482.68,344.69 483.91,344.96 485.15,344.74 485.27,345.99" fill="#f59a7e"/><polygon points="484.76,350.65 483.32,350.87 482.57,352.12 481.91,350.82 480.49,350.49 481.52,349.46 481.39,348.01 482.69,348.68 484.04,348.1 483.8,349.55" fill="#0a0a0a"/><rect x="479.66" y="351.62" width="3.4" height="3.4" rx="1" transform="rotate(20.99 481.36 353.32)" fill="#f4fff8" stroke="#4ef098" stroke-width="0.9"/><rect x="478.42" y="355.13" width="3.2" height="3.2" rx="1.3" transform="rotate(21.94 480.02 356.73)" fill="#36e88c" stroke="#06140c" stroke-width="0.9"/><polygon points="480.55,360.95 479.37,361.37 478.44,362.22 477.67,361.23 476.57,360.61 477.28,359.57 477.53,358.33 478.74,358.69 479.99,358.54 480.03,359.8" fill="#f59a7e"/><polygon points="479.08,364.35 477.89,364.76 476.95,365.59 476.19,364.58 475.11,363.94 475.83,362.92 476.11,361.69 477.31,362.06 478.56,361.94 478.58,363.2" fill="#f59a7e"/><polygon points="477.69,367.79 476.23,367.9 475.38,369.08 474.83,367.73 473.44,367.29 474.56,366.35 474.55,364.88 475.79,365.66 477.18,365.2 476.82,366.62" fill="#0a0a0a"/><polygon points="476.11,371.15 474.65,371.23 473.77,372.4 473.25,371.04 471.86,370.57 473,369.65 473.01,368.19 474.24,368.98 475.63,368.55 475.26,369.96" fill="#0a0a0a"/><rect x="470.85" y="371.87" width="3.2" height="3.2" rx="1.3" transform="rotate(26.71 472.45 373.47)" fill="#36e88c" stroke="#06140c" stroke-width="0.9"/><polygon points="472.64,377.71 471.42,378.03 470.42,378.8 469.74,377.75 468.7,377.04 469.49,376.06 469.84,374.85 471.02,375.3 472.28,375.27 472.21,376.52" fill="#f59a7e"/><polygon points="471.02,381.05 469.56,381.06 468.63,382.18 468.17,380.8 466.81,380.26 467.99,379.4 468.08,377.94 469.26,378.79 470.68,378.43 470.23,379.82" fill="#0a0a0a"/><path d="M468.24 381.44L464.91 383.46L468.22 385.34Z" fill="#12408a" stroke="#050a1e" stroke-width="0.7"/><rect x="463.72" y="384.66" width="3.4" height="3.4" rx="1" transform="rotate(30.53 465.42 386.36)" fill="#f4fff8" stroke="#4ef098" stroke-width="0.9"/><rect x="461.93" y="387.91" width="3.2" height="3.2" rx="1.3" transform="rotate(31.48 463.53 389.51)" fill="#36e88c" stroke="#06140c" stroke-width="0.9"/><polygon points="463.35,393.75 462.11,393.97 461.06,394.66 460.46,393.55 459.49,392.76 460.36,391.85 460.81,390.67 461.94,391.22 463.2,391.29 463.03,392.54" fill="#f59a7e"/><polygon points="461.34,396.86 460.1,397.07 459.03,397.73 458.45,396.61 457.49,395.8 458.37,394.91 458.85,393.74 459.97,394.31 461.23,394.4 461.03,395.64" fill="#f59a7e"/><polygon points="459.4,400.03 457.94,399.89 456.91,400.92 456.59,399.49 455.29,398.82 456.55,398.08 456.78,396.64 457.88,397.61 459.32,397.38 458.74,398.72" fill="#0a0a0a"/><polygon points="457.28,403.07 455.83,402.91 454.77,403.92 454.48,402.49 453.19,401.8 454.46,401.08 454.72,399.64 455.8,400.63 457.24,400.43 456.64,401.76" fill="#0a0a0a"/><rect x="451.59" y="403.05" width="3.4" height="3.4" rx="1" transform="rotate(36.25 453.29 404.75)" fill="#f4fff8" stroke="#4ef098" stroke-width="0.9"/><rect x="449.5" y="406.1" width="3.2" height="3.2" rx="1.3" transform="rotate(37.21 451.1 407.7)" fill="#36e88c" stroke="#06140c" stroke-width="0.9"/><polygon points="450.5,411.9 449.25,412 448.13,412.58 447.65,411.41 446.75,410.53 447.71,409.71 448.28,408.58 449.35,409.24 450.6,409.44 450.3,410.66" fill="#f59a7e"/><polygon points="448.19,414.8 446.93,414.88 445.8,415.43 445.34,414.26 444.46,413.36 445.43,412.56 446.02,411.44 447.08,412.12 448.32,412.33 448.01,413.55" fill="#f59a7e"/><polygon points="445.94,417.75 444.51,417.47 443.37,418.39 443.2,416.94 441.97,416.15 443.3,415.53 443.67,414.12 444.67,415.19 446.13,415.11 445.41,416.39" fill="#0a0a0a"/><polygon points="443.53,420.57 442.1,420.27 440.95,421.17 440.8,419.71 439.59,418.9 440.92,418.31 441.32,416.9 442.3,417.99 443.76,417.94 443.02,419.2" fill="#0a0a0a"/><path d="M440.73 420.36L437.05 421.62L439.87 424.16Z" fill="#12408a" stroke="#050a1e" stroke-width="0.7"/><circle cx="436.92" cy="424.56" r="1.6" fill="#e8d850" stroke="#1a1a08" stroke-width="0.8"/><rect x="432.69" y="425.53" width="3.4" height="3.4" rx="1" transform="rotate(43.89 434.39 427.23)" fill="#f4fff8" stroke="#4ef098" stroke-width="0.9"/><rect x="430.22" y="428.25" width="3.2" height="3.2" rx="1.3" transform="rotate(44.84 431.82 429.85)" fill="#36e88c" stroke="#06140c" stroke-width="0.9"/><polygon points="430.68,433.94 429.42,433.87 428.23,434.29 427.91,433.07 427.14,432.08 428.2,431.4 428.91,430.36 429.89,431.15 431.1,431.51 430.64,432.68" fill="#f59a7e"/><polygon points="428,436.5 426.74,436.41 425.55,436.81 425.25,435.59 424.49,434.58 425.56,433.92 426.29,432.89 427.25,433.7 428.46,434.08 427.98,435.24" fill="#f59a7e"/><polygon points="425.37,439.13 423.99,438.66 422.75,439.42 422.77,437.96 421.66,437.01 423.05,436.58 423.61,435.23 424.45,436.43 425.91,436.54 425.04,437.71" fill="#0a0a0a"/><polygon points="422.61,441.61 421.23,441.11 419.98,441.85 420.02,440.39 418.93,439.42 420.33,439.02 420.91,437.68 421.73,438.89 423.19,439.03 422.29,440.18" fill="#0a0a0a"/><rect x="416.65" y="440.62" width="3.4" height="3.4" rx="1" transform="rotate(49.61 418.35 442.32)" fill="#f4fff8" stroke="#4ef098" stroke-width="0.9"/><rect x="413.93" y="443.08" width="3.2" height="3.2" rx="1.3" transform="rotate(50.56 415.53 444.68)" fill="#36e88c" stroke="#06140c" stroke-width="0.9"/><polygon points="413.98,448.63 412.73,448.44 411.51,448.74 411.31,447.49 410.65,446.43 411.77,445.85 412.58,444.89 413.47,445.78 414.64,446.25 414.07,447.38" fill="#f59a7e"/><polygon points="411.06,450.91 409.82,450.7 408.59,450.98 408.41,449.73 407.76,448.65 408.89,448.1 409.72,447.15 410.6,448.05 411.76,448.55 411.17,449.66" fill="#f59a7e"/><polygon points="408.19,453.27 406.86,452.66 405.54,453.3 405.71,451.84 404.7,450.79 406.13,450.5 406.82,449.21 407.54,450.48 408.98,450.75 407.99,451.82" fill="#0a0a0a"/><polygon points="405.19,455.46 403.87,454.83 402.54,455.44 402.73,453.99 401.74,452.92 403.18,452.65 403.89,451.38 404.59,452.66 406.02,452.95 405.02,454" fill="#0a0a0a"/><path d="M402.52 454.6L398.64 454.97L400.8 458.1Z" fill="#12408a" stroke="#050a1e" stroke-width="0.7"/><path d="M399.5 456.69L395.62 457L397.73 460.16Z" fill="#12408a" stroke="#050a1e" stroke-width="0.7"/><circle cx="394.76" cy="459.82" r="1.6" fill="#e8d850" stroke="#1a1a08" stroke-width="0.8"/><circle cx="391.66" cy="461.78" r="1.6" fill="#e8d850" stroke="#1a1a08" stroke-width="0.8"/><rect x="386.82" y="461.99" width="3.4" height="3.4" rx="1" transform="rotate(59.15 388.52 463.69)" fill="#f4fff8" stroke="#4ef098" stroke-width="0.9"/><rect x="383.75" y="463.95" width="3.2" height="3.2" rx="1.3" transform="rotate(60.1 385.35 465.55)" fill="#36e88c" stroke="#06140c" stroke-width="0.9"/><polygon points="383.17,469.19 381.97,468.79 380.72,468.89 380.73,467.63 380.25,466.46 381.45,466.08 382.41,465.27 383.14,466.29 384.21,466.95 383.46,467.96" fill="#f59a7e"/><polygon points="379.91,470.96 378.72,470.54 377.46,470.61 377.49,469.35 377.03,468.18 378.24,467.82 379.21,467.02 379.93,468.06 380.99,468.74 380.22,469.74" fill="#f59a7e"/><polygon points="376.69,472.8 375.48,471.98 374.07,472.39 374.48,470.99 373.66,469.78 375.12,469.73 376.01,468.58 376.51,469.95 377.89,470.44 376.73,471.34" fill="#0a0a0a"/><polygon points="373.37,474.46 372.17,473.62 370.76,474.01 371.19,472.61 370.39,471.39 371.85,471.36 372.77,470.22 373.24,471.61 374.61,472.12 373.44,473" fill="#0a0a0a"/><rect x="367.37" y="472.33" width="3.4" height="3.4" rx="1" transform="rotate(64.87 369.07 474.03)" fill="#f4fff8" stroke="#4ef098" stroke-width="0.9"/><rect x="364.13" y="473.96" width="3.2" height="3.2" rx="1.3" transform="rotate(65.83 365.73 475.56)" fill="#36e88c" stroke="#06140c" stroke-width="0.9"/><polygon points="363.19,478.97 362.04,478.45 360.78,478.42 360.92,477.17 360.56,475.96 361.79,475.7 362.83,474.99 363.45,476.08 364.45,476.84 363.61,477.78" fill="#f59a7e"/><polygon points="359.77,480.4 358.63,479.86 357.37,479.81 357.53,478.56 357.19,477.35 358.43,477.11 359.47,476.42 360.08,477.52 361.07,478.3 360.21,479.22" fill="#f59a7e"/><polygon points="356.38,481.91 355.26,480.98 353.82,481.24 354.37,479.89 353.67,478.6 355.13,478.7 356.14,477.64 356.49,479.06 357.81,479.69 356.57,480.47" fill="#0a0a0a"/><polygon points="352.91,483.23 351.81,482.28 350.37,482.52 350.93,481.17 350.26,479.88 351.71,480 352.74,478.96 353.07,480.38 354.38,481.03 353.13,481.79" fill="#0a0a0a"/><circle cx="348.68" cy="482.37" r="1.6" fill="#e8d850" stroke="#1a1a08" stroke-width="0.8"/><circle cx="345.2" cy="483.57" r="1.6" fill="#e8d850" stroke="#1a1a08" stroke-width="0.8"/><rect x="340.01" y="483" width="3.4" height="3.4" rx="1" transform="rotate(72.51 341.71 484.7)" fill="#f4fff8" stroke="#4ef098" stroke-width="0.9"/><rect x="336.6" y="484.17" width="3.2" height="3.2" rx="1.3" transform="rotate(73.46 338.2 485.77)" fill="#36e88c" stroke="#06140c" stroke-width="0.9"/><polygon points="335.23,488.81 334.16,488.15 332.92,487.95 333.22,486.73 333.02,485.48 334.28,485.39 335.4,484.82 335.87,485.99 336.76,486.88 335.8,487.69" fill="#f59a7e"/><polygon points="331.65,489.78 330.59,489.1 329.35,488.88 329.67,487.66 329.5,486.41 330.75,486.34 331.89,485.79 332.34,486.97 333.22,487.87 332.24,488.67" fill="#f59a7e"/><polygon points="328.09,490.83 327.1,489.76 325.64,489.83 326.36,488.55 325.84,487.19 327.27,487.48 328.41,486.56 328.58,488.01 329.8,488.81 328.47,489.42" fill="#0a0a0a"/><polygon points="324.48,491.68 323.51,490.59 322.05,490.63 322.79,489.37 322.29,488 323.72,488.31 324.87,487.42 325.01,488.87 326.22,489.69 324.88,490.28" fill="#0a0a0a"/><rect x="318.69" y="488.56" width="3.4" height="3.4" rx="1" transform="rotate(78.23 320.39 490.26)" fill="#f4fff8" stroke="#4ef098" stroke-width="0.9"/><polygon points="317.18,493.04 316.17,492.29 314.95,491.99 315.35,490.8 315.26,489.55 316.52,489.56 317.68,489.08 318.06,490.28 318.87,491.24 317.85,491.97" fill="#f59a7e"/><polygon points="313.56,493.86 312.65,492.72 311.19,492.69 311.99,491.47 311.56,490.07 312.97,490.46 314.17,489.62 314.24,491.08 315.4,491.96 314.04,492.48" fill="#0a0a0a"/><rect x="307.85" y="490.54" width="3.4" height="3.4" rx="1" transform="rotate(81.09 309.55 492.24)" fill="#f4fff8" stroke="#4ef098" stroke-width="0.9"/><rect x="304.32" y="491.18" width="3.2" height="3.2" rx="1.3" transform="rotate(82.05 305.92 492.78)" fill="#36e88c" stroke="#06140c" stroke-width="0.9"/><polygon points="302.53,495.34 301.57,494.52 300.37,494.14 300.85,492.98 300.85,491.72 302.1,491.82 303.3,491.42 303.59,492.64 304.34,493.66 303.27,494.32" fill="#f59a7e"/><polygon points="298.85,495.76 297.9,494.93 296.71,494.53 297.21,493.37 297.22,492.11 298.48,492.23 299.68,491.85 299.95,493.08 300.68,494.11 299.6,494.75" fill="#f59a7e"/><polygon points="295.17,496.27 294.36,495.06 292.9,494.91 293.8,493.76 293.49,492.33 294.87,492.83 296.13,492.1 296.08,493.56 297.17,494.53 295.76,494.93" fill="#0a0a0a"/><polygon points="291.47,496.57 290.68,495.34 289.23,495.17 290.15,494.04 289.86,492.61 291.22,493.13 292.5,492.41 292.42,493.87 293.5,494.86 292.08,495.24" fill="#0a0a0a"/><rect x="285.95" y="492.86" width="3.4" height="3.4" rx="1" transform="rotate(86.82 287.65 494.56)" fill="#f4fff8" stroke="#4ef098" stroke-width="0.9"/><rect x="282.38" y="493.13" width="3.2" height="3.2" rx="1.3" transform="rotate(87.77 283.98 494.73)" fill="#36e88c" stroke="#06140c" stroke-width="0.9"/><polygon points="280.35,496.94 279.48,496.04 278.32,495.54 278.92,494.43 279.03,493.17 280.27,493.4 281.5,493.12 281.67,494.37 282.32,495.45 281.18,496" fill="#f59a7e"/><polygon points="276.64,497 275.79,496.07 274.64,495.56 275.25,494.46 275.39,493.2 276.62,493.45 277.86,493.19 278.01,494.44 278.63,495.53 277.49,496.06" fill="#f59a7e"/><polygon points="272.93,497.14 272.24,495.85 270.81,495.56 271.82,494.5 271.66,493.05 272.97,493.69 274.3,493.08 274.1,494.53 275.09,495.61 273.65,495.87" fill="#0a0a0a"/><polygon points="269.22,497.06 268.55,495.77 267.13,495.45 268.16,494.41 268.01,492.96 269.32,493.62 270.66,493.03 270.44,494.48 271.41,495.57 269.96,495.81" fill="#0a0a0a"/><path d="M267.61 494.77L264.3 492.72L264.13 496.52Z" fill="#12408a" stroke="#050a1e" stroke-width="0.7"/><rect x="260.25" y="492.79" width="3.4" height="3.4" rx="1" transform="rotate(93.5 261.95 494.49)" fill="#f4fff8" stroke="#4ef098" stroke-width="0.9"/><rect x="256.68" y="492.63" width="3.2" height="3.2" rx="1.3" transform="rotate(94.45 258.28 494.23)" fill="#36e88c" stroke="#06140c" stroke-width="0.9"/><polygon points="254.43,496.01 253.66,495.01 252.57,494.38 253.29,493.34 253.55,492.11 254.76,492.48 256.01,492.34 256.04,493.6 256.55,494.75 255.36,495.17" fill="#f59a7e"/><polygon points="250.72,495.78 250.16,494.43 248.77,494 249.88,493.05 249.86,491.59 251.1,492.35 252.49,491.88 252.14,493.3 253.02,494.47 251.56,494.59" fill="#0a0a0a"/><polygon points="247.04,495.34 246.5,493.98 245.11,493.52 246.24,492.59 246.24,491.13 247.47,491.92 248.87,491.47 248.5,492.88 249.36,494.07 247.9,494.16" fill="#0a0a0a"/><circle cx="243.68" cy="492.61" r="1.6" fill="#e8d850" stroke="#1a1a08" stroke-width="0.8"/><circle cx="240.05" cy="492.05" r="1.6" fill="#e8d850" stroke="#1a1a08" stroke-width="0.8"/><circle cx="236.43" cy="491.43" r="1.6" fill="#e8d850" stroke="#1a1a08" stroke-width="0.8"/><rect x="231.22" y="489.15" width="3.2" height="3.2" rx="1.3" transform="rotate(101.13 232.82 490.75)" fill="#36e88c" stroke="#06140c" stroke-width="0.9"/><path d="M231.18 490.43L228.25 487.86L227.46 491.58Z" fill="#12408a" stroke="#050a1e" stroke-width="0.7"/><rect x="223.94" y="487.51" width="3.4" height="3.4" rx="1" transform="rotate(103.04 225.64 489.21)" fill="#f4fff8" stroke="#4ef098" stroke-width="0.9"/><polygon points="221.56,490.39 220.96,489.29 219.97,488.5 220.84,487.59 221.28,486.41 222.42,486.95 223.68,487.01 223.51,488.25 223.85,489.47 222.61,489.7" fill="#f59a7e"/><rect x="216.91" y="485.84" width="3.2" height="3.2" rx="1.3" transform="rotate(104.94 218.51 487.44)" fill="#36e88c" stroke="#06140c" stroke-width="0.9"/><rect x="213.27" y="484.76" width="3.4" height="3.4" rx="1" transform="rotate(105.9 214.97 486.46)" fill="#f4fff8" stroke="#4ef098" stroke-width="0.9"/><rect x="209.74" y="483.73" width="3.4" height="3.4" rx="1" transform="rotate(106.85 211.44 485.43)" fill="#f4fff8" stroke="#4ef098" stroke-width="0.9"/><rect x="206.34" y="482.73" width="3.2" height="3.2" rx="1.3" transform="rotate(107.81 207.94 484.33)" fill="#36e88c" stroke="#06140c" stroke-width="0.9"/><polygon points="203.78,485.17 203.27,484.02 202.35,483.15 203.29,482.31 203.83,481.17 204.92,481.81 206.17,481.97 205.9,483.2 206.13,484.44 204.88,484.56" fill="#f59a7e"/><polygon points="200.27,483.95 199.78,482.79 198.88,481.91 199.84,481.08 200.39,479.95 201.47,480.6 202.72,480.79 202.43,482.01 202.64,483.25 201.39,483.36" fill="#f59a7e"/><polygon points="196.79,482.67 196.32,481.5 195.44,480.6 196.4,479.8 196.98,478.68 198.05,479.34 199.29,479.55 198.98,480.77 199.17,482.01 197.92,482.1" fill="#f59a7e"/><polygon points="193.34,481.33 192.88,480.15 192.01,479.24 192.99,478.45 193.59,477.34 194.64,478.03 195.88,478.25 195.56,479.47 195.73,480.72 194.47,480.78" fill="#f59a7e"/><polygon points="189.84,480.07 189.68,478.62 188.46,477.81 189.79,477.21 190.18,475.81 191.17,476.89 192.63,476.82 191.9,478.09 192.41,479.46 190.98,479.16" fill="#0a0a0a"/><polygon points="186.43,478.62 186.29,477.16 185.09,476.34 186.43,475.76 186.84,474.36 187.8,475.46 189.27,475.41 188.52,476.67 189.01,478.05 187.58,477.73" fill="#0a0a0a"/><polygon points="183.04,477.11 182.93,475.65 181.73,474.81 183.09,474.25 183.52,472.86 184.47,473.97 185.93,473.95 185.16,475.2 185.63,476.58 184.21,476.24" fill="#0a0a0a"/><polygon points="179.67,475.54 179.59,474.08 178.41,473.22 179.77,472.69 180.23,471.3 181.16,472.43 182.62,472.44 181.83,473.67 182.27,475.06 180.86,474.69" fill="#0a0a0a"/><rect x="175.64" y="470.21" width="3.4" height="3.4" rx="1" transform="rotate(116.39 177.34 471.91)" fill="#f4fff8" stroke="#4ef098" stroke-width="0.9"/><rect x="172.46" y="468.65" width="3.2" height="3.2" rx="1.3" transform="rotate(117.35 174.06 470.25)" fill="#36e88c" stroke="#06140c" stroke-width="0.9"/><polygon points="169.82,470.38 169.5,469.16 168.75,468.16 169.81,467.48 170.53,466.45 171.5,467.25 172.7,467.62 172.24,468.79 172.26,470.05 171.01,469.97" fill="#f59a7e"/><polygon points="166.57,468.59 166.27,467.37 165.53,466.35 166.61,465.7 167.35,464.68 168.3,465.5 169.5,465.88 169.01,467.05 169.02,468.3 167.76,468.2" fill="#f59a7e"/><polygon points="163.27,466.89 163.3,465.42 162.2,464.46 163.6,464.05 164.18,462.7 165.01,463.9 166.46,464.03 165.58,465.19 165.9,466.62 164.52,466.13" fill="#0a0a0a"/><polygon points="160.08,464.99 160.14,463.53 159.05,462.55 160.46,462.16 161.05,460.82 161.86,462.04 163.32,462.19 162.41,463.34 162.71,464.77 161.34,464.26" fill="#0a0a0a"/><path d="M159.81 462.2L157.94 458.79L155.92 462Z" fill="#12408a" stroke="#050a1e" stroke-width="0.7"/><rect x="153.32" y="457.46" width="3.4" height="3.4" rx="1" transform="rotate(123.07 155.02 459.16)" fill="#f4fff8" stroke="#4ef098" stroke-width="0.9"/><polygon points="150.78,458.87 150.6,457.63 149.94,456.55 151.07,455.99 151.89,455.03 152.77,455.93 153.93,456.41 153.35,457.53 153.25,458.79 152.01,458.58" fill="#f59a7e"/><polygon points="147.64,456.89 147.8,455.44 146.78,454.39 148.21,454.09 148.89,452.8 149.62,454.07 151.06,454.32 150.08,455.4 150.29,456.85 148.95,456.25" fill="#0a0a0a"/><rect x="144.34" y="451.32" width="3.2" height="3.2" rx="1.3" transform="rotate(125.93 145.94 452.92)" fill="#36e88c" stroke="#06140c" stroke-width="0.9"/><polygon points="141.72,452.42 141.6,451.17 141,450.06 142.15,449.55 143.02,448.64 143.86,449.58 144.99,450.12 144.36,451.21 144.19,452.46 142.96,452.19" fill="#f59a7e"/><polygon points="138.69,450.29 138.91,448.84 137.95,447.75 139.39,447.52 140.14,446.26 140.8,447.56 142.23,447.88 141.19,448.92 141.33,450.37 140.03,449.71" fill="#0a0a0a"/><rect x="135.48" y="444.53" width="3.4" height="3.4" rx="1" transform="rotate(128.8 137.18 446.23)" fill="#f4fff8" stroke="#4ef098" stroke-width="0.9"/><rect x="132.74" y="442.31" width="3.2" height="3.2" rx="1.3" transform="rotate(129.75 134.34 443.91)" fill="#36e88c" stroke="#06140c" stroke-width="0.9"/><polygon points="130.17,443.13 130.12,441.87 129.6,440.72 130.78,440.3 131.71,439.44 132.48,440.44 133.58,441.05 132.87,442.09 132.63,443.33 131.42,442.98" fill="#f59a7e"/><polygon points="127.38,440.68 127.35,439.43 126.85,438.27 128.04,437.86 128.98,437.03 129.73,438.03 130.82,438.67 130.1,439.7 129.83,440.93 128.63,440.56" fill="#f59a7e"/><polygon points="124.52,438.31 124.87,436.89 124,435.71 125.46,435.61 126.31,434.42 126.86,435.77 128.25,436.21 127.14,437.15 127.15,438.61 125.91,437.84" fill="#0a0a0a"/><polygon points="121.81,435.77 122.18,434.36 121.33,433.17 122.79,433.09 123.66,431.91 124.19,433.27 125.58,433.73 124.45,434.66 124.44,436.12 123.21,435.33" fill="#0a0a0a"/><path d="M122.15 432.99L121.06 429.25L118.39 431.96Z" fill="#12408a" stroke="#050a1e" stroke-width="0.7"/><circle cx="118.13" cy="428.99" r="1.6" fill="#e8d850" stroke="#1a1a08" stroke-width="0.8"/><path d="M116.95 427.8L115.98 424.03L113.23 426.65Z" fill="#12408a" stroke="#050a1e" stroke-width="0.7"/><circle cx="113.06" cy="423.67" r="1.6" fill="#e8d850" stroke="#1a1a08" stroke-width="0.8"/><rect x="108.9" y="419.25" width="3.4" height="3.4" rx="1" transform="rotate(138.34 110.6 420.95)" fill="#f4fff8" stroke="#4ef098" stroke-width="0.9"/><rect x="106.58" y="416.58" width="3.2" height="3.2" rx="1.3" transform="rotate(139.29 108.18 418.18)" fill="#36e88c" stroke="#06140c" stroke-width="0.9"/><polygon points="104.19,416.72 104.36,415.47 104.03,414.26 105.27,414.03 106.32,413.34 106.92,414.45 107.9,415.24 107.03,416.15 106.59,417.33 105.45,416.78" fill="#f59a7e"/><polygon points="101.85,413.85 102.03,412.6 101.72,411.38 102.97,411.18 104.03,410.51 104.61,411.62 105.58,412.43 104.7,413.33 104.23,414.5 103.1,413.93" fill="#f59a7e"/><polygon points="99.43,411.03 100,409.69 99.34,408.39 100.8,408.52 101.83,407.49 102.15,408.92 103.45,409.58 102.2,410.33 101.97,411.77 100.87,410.8" fill="#0a0a0a"/><polygon points="97.17,408.08 97.77,406.75 97.13,405.44 98.59,405.6 99.64,404.58 99.93,406.01 101.22,406.7 99.96,407.42 99.7,408.86 98.62,407.88" fill="#0a0a0a"/><circle cx="96.79" cy="403.78" r="1.6" fill="#e8d850" stroke="#1a1a08" stroke-width="0.8"/><circle cx="94.66" cy="400.78" r="1.6" fill="#e8d850" stroke="#1a1a08" stroke-width="0.8"/><circle cx="92.58" cy="397.76" r="1.6" fill="#e8d850" stroke="#1a1a08" stroke-width="0.8"/><path d="M91.64 396.37L91.38 392.49L88.2 394.56Z" fill="#12408a" stroke="#050a1e" stroke-width="0.7"/><path d="M89.64 393.3L89.44 389.41L86.22 391.43Z" fill="#12408a" stroke="#050a1e" stroke-width="0.7"/><rect x="85.05" y="386.88" width="3.2" height="3.2" rx="1.3" transform="rotate(148.83 86.65 388.48)" fill="#36e88c" stroke="#06140c" stroke-width="0.9"/><polygon points="82.96,386.37 83.33,385.17 83.2,383.92 84.46,383.9 85.62,383.39 86.02,384.59 86.86,385.53 85.85,386.28 85.21,387.37 84.19,386.64" fill="#f59a7e"/><polygon points="80.99,383.23 81.76,381.99 81.3,380.6 82.71,380.95 83.89,380.08 84,381.54 85.18,382.39 83.83,382.94 83.39,384.33 82.45,383.22" fill="#0a0a0a"/><rect x="79.48" y="377.21" width="3.4" height="3.4" rx="1" transform="rotate(151.69 81.18 378.91)" fill="#f4fff8" stroke="#4ef098" stroke-width="0.9"/><polygon points="77.6,376.62 78.03,375.44 77.97,374.18 79.23,374.23 80.41,373.78 80.75,374.99 81.54,375.98 80.5,376.68 79.81,377.73 78.81,376.96" fill="#f59a7e"/><polygon points="75.79,373.38 76.62,372.18 76.23,370.78 77.63,371.2 78.85,370.39 78.88,371.85 80.02,372.76 78.64,373.24 78.13,374.61 77.25,373.45" fill="#0a0a0a"/><rect x="74.5" y="367.38" width="3.4" height="3.4" rx="1" transform="rotate(154.56 76.2 369.08)" fill="#f4fff8" stroke="#4ef098" stroke-width="0.9"/><rect x="73.05" y="364.15" width="3.2" height="3.2" rx="1.3" transform="rotate(155.51 74.65 365.75)" fill="#36e88c" stroke="#06140c" stroke-width="0.9"/><polygon points="71.23,363.23 71.74,362.08 71.76,360.82 73.01,360.95 74.22,360.58 74.48,361.82 75.2,362.85 74.11,363.48 73.36,364.48 72.42,363.64" fill="#f59a7e"/><polygon points="69.78,359.82 70.3,358.68 70.35,357.42 71.6,357.57 72.81,357.22 73.05,358.46 73.76,359.5 72.66,360.12 71.88,361.11 70.96,360.25" fill="#f59a7e"/><polygon points="68.24,356.44 69.17,355.31 68.9,353.88 70.26,354.41 71.54,353.71 71.45,355.17 72.51,356.17 71.1,356.54 70.47,357.86 69.69,356.62" fill="#0a0a0a"/><polygon points="66.9,352.98 67.85,351.87 67.6,350.43 68.95,350.99 70.24,350.31 70.13,351.76 71.18,352.78 69.76,353.12 69.11,354.43 68.35,353.19" fill="#0a0a0a"/><circle cx="67.74" cy="348.74" r="1.6" fill="#e8d850" stroke="#1a1a08" stroke-width="0.8"/><rect x="64.83" y="343.57" width="3.4" height="3.4" rx="1" transform="rotate(161.23 66.53 345.27)" fill="#f4fff8" stroke="#4ef098" stroke-width="0.9"/><polygon points="63.38,342.42 64,341.33 64.15,340.08 65.38,340.33 66.61,340.09 66.76,341.34 67.37,342.44 66.22,342.96 65.37,343.88 64.52,342.95" fill="#f59a7e"/><polygon points="62.13,338.93 63.15,337.88 62.99,336.43 64.3,337.08 65.64,336.48 65.43,337.93 66.41,339.01 64.97,339.26 64.24,340.53 63.56,339.23" fill="#0a0a0a"/><rect x="61.54" y="333.05" width="3.4" height="3.4" rx="1" transform="rotate(164.1 63.24 334.75)" fill="#f4fff8" stroke="#4ef098" stroke-width="0.9"/><rect x="60.67" y="329.61" width="3.2" height="3.2" rx="1.3" transform="rotate(165.05 62.27 331.21)" fill="#36e88c" stroke="#06140c" stroke-width="0.9"/><rect x="59.75" y="326.05" width="3.2" height="3.2" rx="1.3" transform="rotate(166 61.35 327.65)" fill="#36e88c" stroke="#06140c" stroke-width="0.9"/><polygon points="58.44,324.56 59.16,323.52 59.41,322.28 60.62,322.64 61.87,322.5 61.9,323.76 62.42,324.9 61.24,325.33 60.31,326.18 59.54,325.18" fill="#f59a7e"/><polygon points="57.64,320.94 58.37,319.91 58.64,318.68 59.84,319.06 61.09,318.94 61.11,320.19 61.61,321.35 60.42,321.75 59.48,322.59 58.72,321.58" fill="#f59a7e"/><polygon points="56.74,317.33 57.86,316.4 57.86,314.93 59.1,315.71 60.48,315.25 60.13,316.67 60.99,317.85 59.54,317.95 58.68,319.13 58.14,317.78" fill="#0a0a0a"/><polygon points="56.06,313.69 57.19,312.77 57.21,311.31 58.44,312.1 59.83,311.67 59.45,313.08 60.3,314.27 58.84,314.35 57.97,315.52 57.44,314.16" fill="#0a0a0a"/><polygon points="55.43,310.03 56.58,309.13 56.62,307.67 57.84,308.48 59.24,308.07 58.84,309.48 59.66,310.68 58.2,310.74 57.31,311.89 56.81,310.52" fill="#0a0a0a"/><rect x="55.4" y="304.34" width="3.4" height="3.4" rx="1" transform="rotate(171.73 57.1 306.04)" fill="#f4fff8" stroke="#4ef098" stroke-width="0.9"/><rect x="55" y="300.8" width="3.2" height="3.2" rx="1.3" transform="rotate(172.68 56.6 302.4)" fill="#36e88c" stroke="#06140c" stroke-width="0.9"/><polygon points="54.07,298.99 54.9,298.04 55.29,296.84 56.45,297.33 57.71,297.34 57.6,298.59 57.98,299.79 56.76,300.07 55.74,300.81 55.09,299.73" fill="#f59a7e"/><polygon points="53.69,295.3 54.53,294.36 54.95,293.17 56.1,293.68 57.36,293.71 57.23,294.96 57.59,296.17 56.36,296.43 55.32,297.15 54.7,296.06" fill="#f59a7e"/><polygon points="53.37,291.6 54.23,290.68 54.66,289.5 55.81,290.03 57.06,290.08 56.91,291.33 57.26,292.54 56.02,292.78 54.97,293.48 54.36,292.38" fill="#f59a7e"/><polygon points="53.12,287.9 53.99,287 54.44,285.82 55.57,286.37 56.83,286.44 56.66,287.69 56.98,288.9 55.74,289.12 54.69,289.81 54.09,288.7" fill="#f59a7e"/><polygon points="52.77,284.21 54.02,283.45 54.23,282 55.34,282.95 56.78,282.7 56.22,284.05 56.9,285.35 55.44,285.23 54.42,286.28 54.08,284.85" fill="#0a0a0a"/><polygon points="52.64,280.5 53.9,279.76 54.13,278.32 55.22,279.28 56.67,279.06 56.08,280.4 56.74,281.71 55.29,281.57 54.25,282.59 53.93,281.17" fill="#0a0a0a"/><polygon points="52.56,276.79 53.84,276.07 54.09,274.63 55.17,275.62 56.62,275.42 56.01,276.75 56.65,278.07 55.2,277.9 54.14,278.91 53.85,277.48" fill="#0a0a0a"/><polygon points="52.55,273.08 53.84,272.38 54.12,270.95 55.18,271.95 56.63,271.78 56,273.1 56.62,274.42 55.17,274.23 54.1,275.23 53.83,273.79" fill="#0a0a0a"/><rect x="53.15" y="267.72" width="3.4" height="3.4" rx="1" transform="rotate(181.27 54.85 269.42)" fill="#f4fff8" stroke="#4ef098" stroke-width="0.9"/><rect x="53.27" y="264.05" width="3.4" height="3.4" rx="1" transform="rotate(182.22 54.97 265.75)" fill="#f4fff8" stroke="#4ef098" stroke-width="0.9"/><polygon points="53.04,261.96 54.01,261.16 54.6,260.05 55.66,260.72 56.9,260.94 56.59,262.16 56.77,263.4 55.51,263.48 54.38,264.03 53.92,262.86" fill="#f59a7e"/><polygon points="53.13,258.25 54.46,257.64 54.83,256.23 55.83,257.3 57.28,257.22 56.57,258.5 57.09,259.86 55.66,259.58 54.53,260.5 54.35,259.04" fill="#0a0a0a"/><rect x="53.97" y="253.05" width="3.4" height="3.4" rx="1" transform="rotate(185.08 55.67 254.75)" fill="#f4fff8" stroke="#4ef098" stroke-width="0.9"/><rect x="54.42" y="249.49" width="3.2" height="3.2" rx="1.3" transform="rotate(186.04 56.02 251.09)" fill="#36e88c" stroke="#06140c" stroke-width="0.9"/><polygon points="54.36,247.19 55.38,246.46 56.04,245.38 57.05,246.13 58.28,246.43 57.88,247.62 57.98,248.88 56.72,248.87 55.55,249.35 55.17,248.15" fill="#f59a7e"/><polygon points="54.84,243.51 55.87,242.8 56.55,241.73 57.55,242.5 58.77,242.81 58.35,244 58.43,245.26 57.17,245.23 56,245.69 55.64,244.48" fill="#f59a7e"/><polygon points="55.23,239.82 56.61,239.32 57.1,237.95 58,239.1 59.46,239.14 58.64,240.35 59.05,241.76 57.65,241.35 56.44,242.17 56.39,240.72" fill="#0a0a0a"/><polygon points="55.84,236.16 57.22,235.68 57.74,234.32 58.62,235.48 60.07,235.55 59.24,236.75 59.62,238.16 58.22,237.73 57,238.53 56.98,237.07" fill="#0a0a0a"/><rect x="57.11" y="231.33" width="3.2" height="3.2" rx="1.3" transform="rotate(190.81 58.71 232.93)" fill="#36e88c" stroke="#06140c" stroke-width="0.9"/><polygon points="57.38,228.9 58.46,228.25 59.2,227.24 60.15,228.07 61.35,228.47 60.85,229.62 60.84,230.88 59.59,230.77 58.39,231.15 58.11,229.92" fill="#f59a7e"/><polygon points="58.02,225.24 59.42,224.84 60,223.5 60.82,224.71 62.28,224.85 61.38,226 61.7,227.43 60.32,226.93 59.06,227.67 59.11,226.21" fill="#0a0a0a"/><path d="M60.58 224.11L63.23 221.25L59.53 220.35Z" fill="#12408a" stroke="#050a1e" stroke-width="0.7"/><path d="M61.44 220.54L64.14 217.73L60.46 216.77Z" fill="#12408a" stroke="#050a1e" stroke-width="0.7"/><rect x="61.2" y="213.35" width="3.4" height="3.4" rx="1" transform="rotate(195.58 62.9 215.05)" fill="#f4fff8" stroke="#4ef098" stroke-width="0.9"/><polygon points="61.91,210.93 63.04,210.37 63.87,209.43 64.74,210.33 65.9,210.82 65.31,211.94 65.2,213.19 63.96,212.97 62.73,213.25 62.55,212.01" fill="#f59a7e"/><polygon points="62.99,207.38 64.13,206.85 64.98,205.91 65.84,206.83 66.99,207.35 66.38,208.45 66.24,209.7 65.01,209.46 63.78,209.72 63.62,208.47" fill="#f59a7e"/><polygon points="63.99,203.81 65.43,203.54 66.15,202.27 66.84,203.55 68.27,203.84 67.27,204.9 67.44,206.35 66.12,205.72 64.79,206.33 64.98,204.88" fill="#0a0a0a"/><polygon points="65.2,200.3 66.64,200.06 67.37,198.79 68.05,200.09 69.48,200.4 68.45,201.44 68.6,202.89 67.29,202.24 65.95,202.83 66.17,201.39" fill="#0a0a0a"/><rect x="66.87" y="195.89" width="3.4" height="3.4" rx="1" transform="rotate(200.35 68.57 197.59)" fill="#f4fff8" stroke="#4ef098" stroke-width="0.9"/><rect x="68.27" y="192.56" width="3.2" height="3.2" rx="1.3" transform="rotate(201.3 69.87 194.16)" fill="#36e88c" stroke="#06140c" stroke-width="0.9"/><polygon points="69.29,189.95 70.47,189.51 71.39,188.65 72.17,189.64 73.28,190.25 72.58,191.29 72.34,192.53 71.13,192.19 69.88,192.35 69.83,191.09" fill="#f59a7e"/><polygon points="70.73,186.53 71.91,186.11 72.85,185.27 73.61,186.27 74.7,186.89 73.99,187.93 73.73,189.16 72.52,188.8 71.27,188.94 71.24,187.68" fill="#f59a7e"/><polygon points="72.08,183.07 73.53,182.95 74.37,181.76 74.94,183.1 76.33,183.53 75.23,184.48 75.25,185.94 74,185.19 72.62,185.66 72.96,184.24" fill="#0a0a0a"/><polygon points="73.63,179.7 75.08,179.6 75.94,178.42 76.48,179.78 77.87,180.23 76.75,181.16 76.75,182.62 75.51,181.84 74.13,182.3 74.48,180.88" fill="#0a0a0a"/><rect x="75.55" y="175.64" width="3.4" height="3.4" rx="1" transform="rotate(206.07 77.25 177.34)" fill="#f4fff8" stroke="#4ef098" stroke-width="0.9"/><rect x="77.29" y="172.46" width="3.2" height="3.2" rx="1.3" transform="rotate(207.03 78.89 174.06)" fill="#36e88c" stroke="#06140c" stroke-width="0.9"/><polygon points="78.73,169.81 79.95,169.49 80.95,168.73 81.63,169.79 82.67,170.5 81.87,171.48 81.51,172.68 80.34,172.23 79.08,172.26 79.15,171" fill="#f59a7e"/><polygon points="80.5,166.55 81.72,166.25 82.74,165.51 83.4,166.58 84.42,167.31 83.61,168.27 83.23,169.47 82.06,168.99 80.8,169 80.9,167.75" fill="#f59a7e"/><polygon points="82.19,163.25 83.65,163.27 84.61,162.17 85.03,163.56 86.38,164.13 85.18,164.97 85.06,166.42 83.9,165.54 82.47,165.88 82.95,164.5" fill="#0a0a0a"/><circle cx="86" cy="161.2" r="1.6" fill="#e8d850" stroke="#1a1a08" stroke-width="0.8"/><circle cx="87.91" cy="158.06" r="1.6" fill="#e8d850" stroke="#1a1a08" stroke-width="0.8"/><path d="M88.79 156.64L92.23 154.81L89.03 152.75Z" fill="#12408a" stroke="#050a1e" stroke-width="0.7"/><rect x="90.18" y="150.18" width="3.4" height="3.4" rx="1" transform="rotate(213.71 91.88 151.88)" fill="#f4fff8" stroke="#4ef098" stroke-width="0.9"/><rect x="92.35" y="147.24" width="3.2" height="3.2" rx="1.3" transform="rotate(214.66 93.95 148.84)" fill="#36e88c" stroke="#06140c" stroke-width="0.9"/><rect x="94.46" y="144.24" width="3.2" height="3.2" rx="1.3" transform="rotate(215.61 96.06 145.84)" fill="#36e88c" stroke="#06140c" stroke-width="0.9"/><polygon points="96.54,141.62 97.79,141.49 98.89,140.88 99.41,142.03 100.32,142.89 99.39,143.74 98.85,144.88 97.76,144.25 96.51,144.09 96.77,142.86" fill="#f59a7e"/><polygon points="98.77,138.66 100.03,138.55 101.14,137.96 101.63,139.12 102.54,140 101.59,140.82 101.03,141.95 99.95,141.31 98.71,141.13 98.99,139.9" fill="#f59a7e"/><polygon points="101.06,135.74 102.31,135.65 103.43,135.08 103.91,136.24 104.8,137.14 103.83,137.95 103.26,139.07 102.19,138.4 100.95,138.21 101.25,136.98" fill="#f59a7e"/><polygon points="103.27,132.76 104.71,133.03 105.83,132.09 106.02,133.54 107.25,134.32 105.94,134.95 105.57,136.37 104.57,135.31 103.11,135.4 103.81,134.12" fill="#0a0a0a"/><polygon points="105.65,129.91 107.08,130.21 108.22,129.29 108.39,130.74 109.61,131.54 108.28,132.15 107.89,133.56 106.91,132.48 105.45,132.55 106.17,131.28" fill="#0a0a0a"/><polygon points="108.08,127.11 109.51,127.42 110.66,126.53 110.8,127.98 112.01,128.8 110.67,129.39 110.26,130.79 109.29,129.7 107.83,129.74 108.57,128.48" fill="#0a0a0a"/><rect x="110.52" y="124.16" width="3.4" height="3.4" rx="1" transform="rotate(222.29 112.22 125.86)" fill="#f4fff8" stroke="#4ef098" stroke-width="0.9"/><polygon points="113.18,121.72 114.44,121.73 115.61,121.26 115.98,122.46 116.79,123.42 115.77,124.15 115.1,125.22 114.09,124.47 112.87,124.17 113.27,122.98" fill="#f59a7e"/><polygon points="115.64,118.94 117.05,119.32 118.24,118.49 118.31,119.94 119.48,120.83 118.11,121.34 117.63,122.72 116.72,121.58 115.26,121.55 116.06,120.33" fill="#0a0a0a"/><rect x="118.13" y="116.19" width="3.4" height="3.4" rx="1" transform="rotate(225.15 119.83 117.89)" fill="#f4fff8" stroke="#4ef098" stroke-width="0.9"/><rect x="120.86" y="113.72" width="3.2" height="3.2" rx="1.3" transform="rotate(226.11 122.46 115.32)" fill="#36e88c" stroke="#06140c" stroke-width="0.9"/><polygon points="123.7,111.26 124.95,111.36 126.15,110.96 126.44,112.19 127.19,113.2 126.11,113.86 125.38,114.88 124.42,114.07 123.22,113.69 123.7,112.52" fill="#f59a7e"/><polygon points="126.43,108.76 127.69,108.88 128.89,108.5 129.16,109.73 129.89,110.76 128.81,111.4 128.06,112.41 127.11,111.58 125.92,111.17 126.42,110.02" fill="#f59a7e"/><polygon points="129.11,106.19 130.48,106.69 131.75,105.96 131.69,107.42 132.78,108.39 131.38,108.79 130.78,110.13 129.97,108.91 128.52,108.77 129.42,107.62" fill="#0a0a0a"/><polygon points="131.93,103.78 133.29,104.3 134.57,103.59 134.49,105.05 135.56,106.04 134.15,106.42 133.54,107.74 132.74,106.52 131.29,106.34 132.21,105.21" fill="#0a0a0a"/><rect x="134.51" y="101.46" width="3.4" height="3.4" rx="1" transform="rotate(230.88 136.21 103.16)" fill="#f4fff8" stroke="#4ef098" stroke-width="0.9"/><rect x="137.48" y="99.26" width="3.2" height="3.2" rx="1.3" transform="rotate(231.83 139.08 100.86)" fill="#36e88c" stroke="#06140c" stroke-width="0.9"/><polygon points="140.71,96.94 141.95,97.17 143.18,96.89 143.35,98.14 144,99.22 142.86,99.77 142.03,100.72 141.16,99.81 140,99.31 140.6,98.2" fill="#f59a7e"/><polygon points="143.69,94.73 144.92,94.97 146.15,94.71 146.31,95.97 146.93,97.06 145.79,97.59 144.94,98.52 144.08,97.6 142.93,97.08 143.55,95.98" fill="#f59a7e"/><polygon points="146.61,92.44 147.92,93.07 149.25,92.47 149.05,93.91 150.04,94.99 148.6,95.25 147.88,96.52 147.19,95.23 145.76,94.94 146.77,93.89" fill="#0a0a0a"/><polygon points="149.65,90.32 150.96,90.97 152.3,90.39 152.07,91.84 153.04,92.93 151.6,93.16 150.86,94.42 150.19,93.12 148.76,92.81 149.79,91.77" fill="#0a0a0a"/><path d="M152.3 91.23L156.19 90.94L154.1 87.77Z" fill="#12408a" stroke="#050a1e" stroke-width="0.7"/><circle cx="157.06" cy="88.13" r="1.6" fill="#e8d850" stroke="#1a1a08" stroke-width="0.8"/><circle cx="160.17" cy="86.19" r="1.6" fill="#e8d850" stroke="#1a1a08" stroke-width="0.8"/><circle cx="163.32" cy="84.29" r="1.6" fill="#e8d850" stroke="#1a1a08" stroke-width="0.8"/><circle cx="166.5" cy="82.45" r="1.6" fill="#e8d850" stroke="#1a1a08" stroke-width="0.8"/><rect x="168.01" y="78.97" width="3.4" height="3.4" rx="1" transform="rotate(241.37 169.71 80.67)" fill="#f4fff8" stroke="#4ef098" stroke-width="0.9"/><rect x="171.35" y="77.33" width="3.2" height="3.2" rx="1.3" transform="rotate(242.33 172.95 78.93)" fill="#36e88c" stroke="#06140c" stroke-width="0.9"/><polygon points="175.27,75.38 176.45,75.82 177.71,75.78 177.65,77.04 178.08,78.22 176.87,78.55 175.88,79.33 175.19,78.28 174.14,77.57 174.93,76.59" fill="#f59a7e"/><polygon points="178.6,73.74 179.77,74.2 181.03,74.18 180.95,75.43 181.36,76.62 180.14,76.94 179.14,77.7 178.46,76.63 177.43,75.91 178.23,74.94" fill="#f59a7e"/><rect x="181.13" y="72.36" width="3.4" height="3.4" rx="1" transform="rotate(245.19 182.83 74.06)" fill="#f4fff8" stroke="#4ef098" stroke-width="0.9"/><rect x="184.58" y="70.95" width="3.2" height="3.2" rx="1.3" transform="rotate(246.14 186.18 72.55)" fill="#36e88c" stroke="#06140c" stroke-width="0.9"/><polygon points="188.73,69.16 189.88,69.68 191.14,69.72 190.99,70.97 191.35,72.18 190.11,72.43 189.07,73.14 188.45,72.04 187.46,71.27 188.31,70.34" fill="#f59a7e"/><polygon points="192.16,67.74 193.3,68.28 194.56,68.34 194.39,69.59 194.73,70.8 193.49,71.03 192.44,71.73 191.83,70.62 190.85,69.83 191.72,68.92" fill="#f59a7e"/><polygon points="195.56,66.24 196.67,67.19 198.11,66.93 197.56,68.28 198.25,69.57 196.79,69.47 195.78,70.52 195.43,69.1 194.12,68.46 195.36,67.69" fill="#0a0a0a"/><polygon points="199.03,64.94 200.13,65.9 201.58,65.67 201,67.01 201.67,68.31 200.21,68.18 199.19,69.22 198.86,67.8 197.56,67.14 198.81,66.39" fill="#0a0a0a"/><rect x="201.56" y="64.13" width="3.4" height="3.4" rx="1" transform="rotate(250.91 203.26 65.83)" fill="#f4fff8" stroke="#4ef098" stroke-width="0.9"/><polygon points="206.09,62.66 207.19,63.28 208.44,63.42 208.2,64.65 208.45,65.89 207.2,66.03 206.1,66.65 205.57,65.51 204.65,64.66 205.57,63.81" fill="#f59a7e"/><polygon points="209.58,61.39 210.63,62.41 212.09,62.24 211.45,63.56 212.05,64.89 210.6,64.69 209.52,65.67 209.27,64.23 208,63.51 209.29,62.82" fill="#0a0a0a"/><rect x="212.16" y="60.89" width="3.2" height="3.2" rx="1.3" transform="rotate(253.78 213.76 62.49)" fill="#36e88c" stroke="#06140c" stroke-width="0.9"/><polygon points="216.75,59.46 217.81,60.13 219.06,60.34 218.75,61.56 218.94,62.8 217.68,62.89 216.56,63.45 216.09,62.28 215.2,61.39 216.17,60.58" fill="#f59a7e"/><polygon points="220.29,58.37 221.29,59.44 222.75,59.35 222.05,60.63 222.58,61.99 221.15,61.71 220.02,62.64 219.84,61.19 218.61,60.41 219.93,59.78" fill="#0a0a0a"/><rect x="222.72" y="57.97" width="3.4" height="3.4" rx="1" transform="rotate(256.64 224.42 59.67)" fill="#f4fff8" stroke="#4ef098" stroke-width="0.9"/><rect x="226.4" y="57.25" width="3.2" height="3.2" rx="1.3" transform="rotate(257.59 228 58.85)" fill="#36e88c" stroke="#06140c" stroke-width="0.9"/><polygon points="231.18,56.04 232.19,56.77 233.42,57.06 233.03,58.26 233.14,59.51 231.88,59.51 230.72,60 230.33,58.81 229.51,57.85 230.52,57.11" fill="#f59a7e"/><polygon points="234.82,55.33 235.82,56.09 237.04,56.39 236.64,57.58 236.72,58.84 235.46,58.82 234.29,59.29 233.92,58.09 233.12,57.12 234.15,56.4" fill="#f59a7e"/><polygon points="238.44,54.54 239.35,55.68 240.81,55.71 240,56.93 240.42,58.33 239.01,57.94 237.81,58.77 237.75,57.31 236.59,56.42 237.96,55.91" fill="#0a0a0a"/><polygon points="242.11,53.95 243,55.11 244.45,55.17 243.63,56.37 244.02,57.78 242.62,57.36 241.41,58.17 241.37,56.71 240.22,55.81 241.6,55.32" fill="#0a0a0a"/><rect x="244.38" y="53.96" width="3.4" height="3.4" rx="1" transform="rotate(262.36 246.08 55.66)" fill="#f4fff8" stroke="#4ef098" stroke-width="0.9"/><rect x="248.12" y="53.6" width="3.2" height="3.2" rx="1.3" transform="rotate(263.32 249.72 55.2)" fill="#36e88c" stroke="#06140c" stroke-width="0.9"/><polygon points="253.17,52.71 254.11,53.55 255.3,53.96 254.79,55.11 254.77,56.37 253.52,56.24 252.32,56.62 252.05,55.39 251.32,54.36 252.41,53.72" fill="#f59a7e"/><polygon points="256.86,52.37 257.78,53.23 258.97,53.65 258.44,54.8 258.4,56.06 257.15,55.91 255.94,56.26 255.7,55.03 254.99,53.99 256.09,53.37" fill="#f59a7e"/><polygon points="260.55,51.95 261.34,53.17 262.78,53.35 261.86,54.48 262.14,55.92 260.78,55.39 259.5,56.09 259.58,54.64 258.51,53.64 259.93,53.27" fill="#0a0a0a"/><polygon points="264.25,51.73 265.02,52.97 266.47,53.17 265.52,54.29 265.78,55.73 264.42,55.17 263.13,55.86 263.24,54.4 262.19,53.39 263.61,53.04" fill="#0a0a0a"/><path d="M266.03 53.89L269.5 55.68L269.37 51.88Z" fill="#12408a" stroke="#050a1e" stroke-width="0.7"/><path d="M269.71 53.76L273.14 55.61L273.07 51.81Z" fill="#12408a" stroke="#050a1e" stroke-width="0.7"/><circle cx="275.38" cy="53.7" r="1.6" fill="#e8d850" stroke="#1a1a08" stroke-width="0.8"/><circle cx="279.05" cy="53.73" r="1.6" fill="#e8d850" stroke="#1a1a08" stroke-width="0.8"/><rect x="281.02" y="52.12" width="3.4" height="3.4" rx="1" transform="rotate(271.9 282.72 53.82)" fill="#f4fff8" stroke="#4ef098" stroke-width="0.9"/><rect x="284.79" y="52.37" width="3.2" height="3.2" rx="1.3" transform="rotate(272.86 286.39 53.97)" fill="#36e88c" stroke="#06140c" stroke-width="0.9"/><polygon points="290.2,52.09 290.99,53.07 292.1,53.67 291.41,54.73 291.18,55.96 289.96,55.63 288.72,55.8 288.65,54.54 288.11,53.41 289.29,52.96" fill="#f59a7e"/><polygon points="293.9,52.37 294.67,53.36 295.77,53.98 295.06,55.02 294.81,56.26 293.6,55.91 292.35,56.05 292.31,54.79 291.79,53.65 292.97,53.22" fill="#f59a7e"/><polygon points="297.61,52.56 298.18,53.9 299.58,54.32 298.48,55.28 298.52,56.74 297.26,55.99 295.88,56.48 296.21,55.05 295.32,53.89 296.78,53.76" fill="#0a0a0a"/><rect x="299.33" y="53.49" width="3.4" height="3.4" rx="1" transform="rotate(276.67 301.03 55.19)" fill="#f4fff8" stroke="#4ef098" stroke-width="0.9"/><rect x="303.08" y="54.05" width="3.2" height="3.2" rx="1.3" transform="rotate(277.63 304.68 55.65)" fill="#36e88c" stroke="#06140c" stroke-width="0.9"/><polygon points="308.63,54.09 309.33,55.14 310.39,55.83 309.61,56.82 309.28,58.03 308.1,57.6 306.84,57.67 306.88,56.41 306.44,55.23 307.65,54.88" fill="#f59a7e"/><polygon points="312.29,54.68 312.98,55.73 314.02,56.44 313.23,57.42 312.88,58.63 311.7,58.18 310.44,58.22 310.51,56.96 310.08,55.78 311.3,55.45" fill="#f59a7e"/><polygon points="315.97,55.17 316.43,56.56 317.79,57.09 316.61,57.96 316.53,59.42 315.34,58.57 313.93,58.94 314.37,57.54 313.58,56.31 315.04,56.3" fill="#0a0a0a"/><polygon points="319.61,55.88 320.05,57.27 321.4,57.83 320.21,58.67 320.1,60.13 318.93,59.26 317.51,59.61 317.97,58.22 317.21,56.98 318.67,56.99" fill="#0a0a0a"/><polygon points="323.24,56.65 323.66,58.05 325,58.62 323.79,59.45 323.66,60.91 322.5,60.02 321.08,60.34 321.56,58.96 320.82,57.71 322.28,57.74" fill="#0a0a0a"/><rect x="324.64" y="57.96" width="3.4" height="3.4" rx="1" transform="rotate(283.35 326.34 59.66)" fill="#f4fff8" stroke="#4ef098" stroke-width="0.9"/><polygon points="330.46,58.36 330.83,59.77 332.15,60.39 330.92,61.18 330.74,62.63 329.61,61.7 328.18,61.98 328.71,60.62 328.01,59.34 329.46,59.42" fill="#0a0a0a"/><rect x="331.86" y="59.88" width="3.2" height="3.2" rx="1.3" transform="rotate(285.26 333.46 61.48)" fill="#36e88c" stroke="#06140c" stroke-width="0.9"/><polygon points="337.58,60.46 338.14,61.58 339.09,62.41 338.19,63.29 337.7,64.45 336.59,63.87 335.33,63.76 335.54,62.52 335.26,61.29 336.5,61.11" fill="#f59a7e"/><polygon points="341.18,61.38 341.47,62.81 342.76,63.5 341.49,64.22 341.24,65.66 340.16,64.67 338.71,64.88 339.31,63.55 338.67,62.23 340.13,62.39" fill="#0a0a0a"/><rect x="342.31" y="62.94" width="3.4" height="3.4" rx="1" transform="rotate(288.12 344.01 64.64)" fill="#f4fff8" stroke="#4ef098" stroke-width="0.9"/><rect x="345.89" y="64.21" width="3.2" height="3.2" rx="1.3" transform="rotate(289.08 347.49 65.81)" fill="#36e88c" stroke="#06140c" stroke-width="0.9"/><polygon points="351.67,65.07 352.16,66.23 353.05,67.12 352.1,67.94 351.53,69.06 350.46,68.4 349.21,68.22 349.51,66.99 349.3,65.75 350.56,65.65" fill="#f59a7e"/><polygon points="355.15,66.37 355.61,67.54 356.49,68.44 355.52,69.24 354.94,70.36 353.88,69.68 352.64,69.47 352.95,68.25 352.76,67.01 354.02,66.93" fill="#f59a7e"/><polygon points="358.66,67.59 358.83,69.04 360.06,69.83 358.73,70.44 358.36,71.86 357.37,70.79 355.91,70.87 356.62,69.59 356.09,68.23 357.52,68.51" fill="#0a0a0a"/><polygon points="362.09,69 362.24,70.45 363.45,71.27 362.12,71.86 361.72,73.27 360.74,72.18 359.28,72.24 360.01,70.97 359.51,69.6 360.94,69.9" fill="#0a0a0a"/><rect x="362.88" y="70.83" width="3.4" height="3.4" rx="1" transform="rotate(293.85 364.58 72.53)" fill="#f4fff8" stroke="#4ef098" stroke-width="0.9"/><rect x="366.23" y="72.34" width="3.4" height="3.4" rx="1" transform="rotate(294.8 367.93 74.04)" fill="#f4fff8" stroke="#4ef098" stroke-width="0.9"/><rect x="369.55" y="73.91" width="3.4" height="3.4" rx="1" transform="rotate(295.75 371.25 75.61)" fill="#f4fff8" stroke="#4ef098" stroke-width="0.9"/><rect x="372.95" y="75.64" width="3.2" height="3.2" rx="1.3" transform="rotate(296.71 374.55 77.24)" fill="#36e88c" stroke="#06140c" stroke-width="0.9"/><rect x="376.21" y="77.31" width="3.2" height="3.2" rx="1.3" transform="rotate(297.66 377.81 78.91)" fill="#36e88c" stroke="#06140c" stroke-width="0.9"/><rect x="379.45" y="79.05" width="3.2" height="3.2" rx="1.3" transform="rotate(298.62 381.05 80.65)" fill="#36e88c" stroke="#06140c" stroke-width="0.9"/><polygon points="385.3,80.61 385.58,81.83 386.32,82.85 385.24,83.5 384.5,84.52 383.55,83.69 382.35,83.3 382.84,82.14 382.85,80.88 384.1,80.99" fill="#f59a7e"/><polygon points="388.51,82.46 388.77,83.69 389.49,84.73 388.4,85.36 387.64,86.36 386.71,85.52 385.52,85.11 386.03,83.96 386.05,82.7 387.3,82.83" fill="#f59a7e"/><polygon points="391.69,84.37 391.93,85.61 392.63,86.65 391.53,87.27 390.76,88.26 389.83,87.4 388.65,86.97 389.18,85.83 389.23,84.57 390.48,84.72" fill="#f59a7e"/><polygon points="394.83,86.33 395.06,87.57 395.74,88.63 394.63,89.22 393.84,90.2 392.93,89.33 391.75,88.88 392.3,87.75 392.37,86.49 393.62,86.66" fill="#f59a7e"/><polygon points="397.95,88.35 398.15,89.59 398.82,90.66 397.7,91.24 396.89,92.2 395.99,91.31 394.83,90.84 395.39,89.72 395.48,88.46 396.72,88.65" fill="#f59a7e"/><polygon points="401.03,90.42 401.21,91.66 401.86,92.74 400.73,93.3 399.9,94.25 399.02,93.35 397.86,92.86 398.45,91.74 398.56,90.49 399.8,90.7" fill="#f59a7e"/><polygon points="404.16,92.41 403.99,93.86 405,94.92 403.57,95.21 402.88,96.5 402.16,95.23 400.73,94.97 401.71,93.89 401.51,92.44 402.84,93.05" fill="#0a0a0a"/><polygon points="407.17,94.58 406.98,96.03 407.97,97.1 406.54,97.37 405.83,98.64 405.13,97.36 403.69,97.08 404.7,96.02 404.52,94.57 405.84,95.19" fill="#0a0a0a"/><polygon points="410.14,96.8 409.93,98.24 410.91,99.33 409.47,99.58 408.73,100.84 408.06,99.55 406.63,99.24 407.65,98.2 407.5,96.74 408.81,97.39" fill="#0a0a0a"/><polygon points="413.08,99.07 412.84,100.51 413.8,101.61 412.36,101.83 411.6,103.08 410.95,101.78 409.52,101.45 410.56,100.42 410.43,98.97 411.73,99.64" fill="#0a0a0a"/><polygon points="415.98,101.38 415.72,102.82 416.66,103.94 415.21,104.14 414.44,105.38 413.8,104.06 412.38,103.71 413.44,102.7 413.34,101.24 414.62,101.93" fill="#0a0a0a"/><polygon points="418.84,103.75 418.55,105.18 419.47,106.31 418.02,106.49 417.23,107.71 416.62,106.39 415.2,106.01 416.28,105.02 416.2,103.56 417.47,104.27" fill="#0a0a0a"/><path d="M418.67 106.54L419.99 110.21L422.48 107.34Z" fill="#12408a" stroke="#050a1e" stroke-width="0.7"/><path d="M421.44 108.95L422.7 112.64L425.24 109.81Z" fill="#12408a" stroke="#050a1e" stroke-width="0.7"/><circle cx="425.64" cy="112.77" r="1.6" fill="#e8d850" stroke="#1a1a08" stroke-width="0.8"/><rect x="426.61" y="113.59" width="3.4" height="3.4" rx="1" transform="rotate(313.88 428.31 115.29)" fill="#f4fff8" stroke="#4ef098" stroke-width="0.9"/><rect x="429.34" y="116.26" width="3.2" height="3.2" rx="1.3" transform="rotate(314.83 430.94 117.86)" fill="#36e88c" stroke="#06140c" stroke-width="0.9"/><polygon points="435.02,119.01 434.95,120.27 435.38,121.45 434.16,121.77 433.16,122.54 432.48,121.48 431.44,120.77 432.24,119.8 432.59,118.59 433.77,119.04" fill="#f59a7e"/><polygon points="437.59,121.69 437.5,122.94 437.9,124.14 436.68,124.44 435.67,125.19 435,124.12 433.98,123.39 434.79,122.43 435.16,121.23 436.33,121.7" fill="#f59a7e"/><polygon points="440.22,124.31 439.75,125.69 440.51,126.94 439.05,126.92 438.1,128.03 437.67,126.63 436.32,126.07 437.51,125.23 437.63,123.77 438.8,124.65" fill="#0a0a0a"/><polygon points="442.69,127.07 442.2,128.45 442.94,129.71 441.48,129.66 440.51,130.76 440.1,129.35 438.76,128.77 439.97,127.95 440.11,126.5 441.27,127.39" fill="#0a0a0a"/><circle cx="443.41" cy="131.34" r="1.6" fill="#e8d850" stroke="#1a1a08" stroke-width="0.8"/><circle cx="445.76" cy="134.16" r="1.6" fill="#e8d850" stroke="#1a1a08" stroke-width="0.8"/><circle cx="448.07" cy="137.01" r="1.6" fill="#e8d850" stroke="#1a1a08" stroke-width="0.8"/><path d="M449.12 138.32L449.68 142.17L452.7 139.86Z" fill="#12408a" stroke="#050a1e" stroke-width="0.7"/><circle cx="452.55" cy="142.84" r="1.6" fill="#e8d850" stroke="#1a1a08" stroke-width="0.8"/><circle cx="454.71" cy="145.8" r="1.6" fill="#e8d850" stroke="#1a1a08" stroke-width="0.8"/><path d="M455.69 147.16L456.06 151.04L459.19 148.88Z" fill="#12408a" stroke="#050a1e" stroke-width="0.7"/><circle cx="458.89" cy="151.85" r="1.6" fill="#e8d850" stroke="#1a1a08" stroke-width="0.8"/><rect x="459.21" y="153.22" width="3.4" height="3.4" rx="1" transform="rotate(327.24 460.91 154.92)" fill="#f4fff8" stroke="#4ef098" stroke-width="0.9"/><rect x="461.27" y="156.42" width="3.2" height="3.2" rx="1.3" transform="rotate(328.19 462.87 158.02)" fill="#36e88c" stroke="#06140c" stroke-width="0.9"/><polygon points="466.58,160.08 466.22,161.29 466.36,162.54 465.1,162.58 463.95,163.09 463.53,161.91 462.69,160.97 463.69,160.21 464.31,159.11 465.35,159.83" fill="#f59a7e"/><polygon points="468.46,163.28 468.08,164.48 468.19,165.74 466.93,165.75 465.78,166.25 465.38,165.05 464.55,164.11 465.56,163.36 466.2,162.28 467.23,163.01" fill="#f59a7e"/><polygon points="470.41,166.44 469.63,167.68 470.08,169.07 468.67,168.71 467.49,169.57 467.39,168.11 466.21,167.25 467.56,166.71 468.01,165.32 468.95,166.44" fill="#0a0a0a"/><polygon points="472.18,169.7 471.38,170.93 471.81,172.32 470.4,171.94 469.2,172.78 469.13,171.32 467.96,170.45 469.33,169.93 469.8,168.54 470.72,169.68" fill="#0a0a0a"/><rect x="470.19" y="172.32" width="3.4" height="3.4" rx="1" transform="rotate(332.96 471.89 174.02)" fill="#f4fff8" stroke="#4ef098" stroke-width="0.9"/><rect x="471.93" y="175.7" width="3.2" height="3.2" rx="1.3" transform="rotate(333.92 473.53 177.3)" fill="#36e88c" stroke="#06140c" stroke-width="0.9"/><polygon points="477.02,179.72 476.54,180.89 476.55,182.15 475.3,182.05 474.1,182.45 473.81,181.23 473.06,180.22 474.13,179.56 474.86,178.53 475.82,179.34" fill="#f59a7e"/><polygon points="478.57,183.09 478.07,184.25 478.06,185.51 476.81,185.39 475.61,185.78 475.33,184.55 474.6,183.52 475.68,182.88 476.42,181.87 477.37,182.7" fill="#f59a7e"/><polygon points="480.19,186.43 479.3,187.58 479.61,189.01 478.24,188.51 476.98,189.25 477.02,187.79 475.93,186.82 477.34,186.41 477.92,185.08 478.74,186.29" fill="#0a0a0a"/><polygon points="481.63,189.85 480.71,190.99 481,192.42 479.64,191.9 478.36,192.62 478.44,191.16 477.36,190.17 478.77,189.79 479.38,188.46 480.18,189.68" fill="#0a0a0a"/><path d="M480.18 192.25L479.65 196.11L483.19 194.73Z" fill="#12408a" stroke="#050a1e" stroke-width="0.7"/><polygon points="484.19,196.82 483.61,197.94 483.52,199.19 482.28,199 481.05,199.3 480.86,198.05 480.2,196.98 481.32,196.41 482.13,195.45 483.02,196.34" fill="#f59a7e"/><polygon points="485.59,200.25 484.62,201.34 484.83,202.79 483.5,202.2 482.19,202.85 482.33,201.4 481.31,200.36 482.74,200.05 483.41,198.75 484.15,200.01" fill="#0a0a0a"/><polygon points="486.65,203.81 486.04,204.91 485.91,206.17 484.67,205.93 483.44,206.19 483.28,204.94 482.66,203.84 483.8,203.31 484.64,202.38 485.5,203.3" fill="#f59a7e"/><polygon points="487.94,207.29 486.93,208.35 487.1,209.8 485.78,209.17 484.45,209.78 484.65,208.33 483.66,207.26 485.1,206.99 485.81,205.72 486.51,207.01" fill="#0a0a0a"/><rect x="485.17" y="209.78" width="3.4" height="3.4" rx="1" transform="rotate(343.46 486.87 211.48)" fill="#f4fff8" stroke="#4ef098" stroke-width="0.9"/><polygon points="489.91,214.45 489.24,215.52 489.05,216.76 487.82,216.46 486.58,216.66 486.49,215.4 485.92,214.28 487.08,213.8 487.97,212.91 488.78,213.88" fill="#f59a7e"/><polygon points="490.87,218.03 490.19,219.09 489.97,220.33 488.76,220.01 487.51,220.18 487.44,218.93 486.89,217.79 488.06,217.34 488.96,216.46 489.76,217.44" fill="#f59a7e"/><polygon points="491.93,221.59 490.85,222.58 490.92,224.04 489.65,223.32 488.28,223.84 488.57,222.4 487.66,221.27 489.11,221.1 489.91,219.88 490.52,221.21" fill="#0a0a0a"/><polygon points="492.77,225.2 491.68,226.17 491.73,227.63 490.47,226.89 489.09,227.39 489.41,225.96 488.51,224.81 489.97,224.66 490.79,223.46 491.37,224.79" fill="#0a0a0a"/><rect x="489.76" y="227.69" width="3.2" height="3.2" rx="1.3" transform="rotate(348.23 491.36 229.29)" fill="#36e88c" stroke="#06140c" stroke-width="0.9"/><path d="M491.7 230.92L490.47 234.62L494.21 233.91Z" fill="#12408a" stroke="#050a1e" stroke-width="0.7"/>
<g font-family="Liberation Sans, sans-serif" font-size="3.05" fill="#161616" stroke="#161616" stroke-width="0.05"><text transform="translate(501 274.3) rotate(0) scale(0.93 1)" dy="1.1">AtDUF4228-33</text><text transform="translate(500.97 278.06) rotate(0.95) scale(0.93 1)" dy="1.1">OsDUF4228-46</text><text transform="translate(500.87 281.81) rotate(1.91) scale(0.93 1)" dy="1.1">OsDUF4228-68</text><text transform="translate(500.72 285.56) rotate(2.86) scale(0.93 1)" dy="1.1">AtDUF4228-4</text><text transform="translate(500.5 289.31) rotate(3.82) scale(0.93 1)" dy="1.1">GaDUF4228-60</text><text transform="translate(500.22 293.06) rotate(4.77) scale(0.93 1)" dy="1.1">GrDUF4228-32</text><text transform="translate(499.88 296.8) rotate(5.72) scale(0.93 1)" dy="1.1">GhDUF4228-7</text><text transform="translate(499.47 300.54) rotate(6.68) scale(0.93 1)" dy="1.1">GhDUF4228-21</text><text transform="translate(499 304.26) rotate(7.63) scale(0.93 1)" dy="1.1">GbDUF4228-15</text><text transform="translate(498.47 307.98) rotate(8.59) scale(0.93 1)" dy="1.1">GbDUF4228-48</text><text transform="translate(497.88 311.69) rotate(9.54) scale(0.93 1)" dy="1.1">OsDUF4228-61</text><text transform="translate(497.23 315.39) rotate(10.49) scale(0.93 1)" dy="1.1">OsDUF4228-32</text><text transform="translate(496.51 319.08) rotate(11.45) scale(0.93 1)" dy="1.1">OsDUF4228-49</text><text transform="translate(495.74 322.75) rotate(12.4) scale(0.93 1)" dy="1.1">GaDUF4228-70</text><text transform="translate(494.9 326.42) rotate(13.36) scale(0.93 1)" dy="1.1">GhDUF4228-14</text><text transform="translate(494 330.06) rotate(14.31) scale(0.93 1)" dy="1.1">GbDUF4228-32</text><text transform="translate(493.04 333.7) rotate(15.26) scale(0.93 1)" dy="1.1">GrDUF4228-2</text><text transform="translate(492.02 337.31) rotate(16.22) scale(0.93 1)" dy="1.1">GhDUF4228-28</text><text transform="translate(490.94 340.91) rotate(17.17) scale(0.93 1)" dy="1.1">GbDUF4228-53</text><text transform="translate(489.8 344.49) rotate(18.13) scale(0.93 1)" dy="1.1">GaDUF4228-36</text><text transform="translate(488.61 348.05) rotate(19.08) scale(0.93 1)" dy="1.1">GhDUF4228-24</text><text transform="translate(487.35 351.59) rotate(20.03) scale(0.93 1)" dy="1.1">GbDUF4228-50</text><text transform="translate(486.03 355.11) rotate(20.99) scale(0.93 1)" dy="1.1">GaDUF4228-21</text><text transform="translate(484.66 358.6) rotate(21.94) scale(0.93 1)" dy="1.1">GrDUF4228-10</text><text transform="translate(483.22 362.08) rotate(22.9) scale(0.93 1)" dy="1.1">GhDUF4228-18</text><text transform="translate(481.73 365.52) rotate(23.85) scale(0.93 1)" dy="1.1">GhDUF4228-57</text><text transform="translate(480.19 368.95) rotate(24.81) scale(0.93 1)" dy="1.1">GbDUF4228-17</text><text transform="translate(478.58 372.34) rotate(25.76) scale(0.93 1)" dy="1.1">GbDUF4228-17</text><text transform="translate(476.92 375.71) rotate(26.71) scale(0.93 1)" dy="1.1">GrDUF4228-1</text><text transform="translate(475.2 379.05) rotate(27.67) scale(0.93 1)" dy="1.1">GhDUF4228-1</text><text transform="translate(473.43 382.37) rotate(28.62) scale(0.93 1)" dy="1.1">GbDUF4228-27</text><text transform="translate(471.61 385.65) rotate(29.58) scale(0.93 1)" dy="1.1">AtDUF4228-28</text><text transform="translate(469.72 388.9) rotate(30.53) scale(0.93 1)" dy="1.1">GaDUF4228-22</text><text transform="translate(467.79 392.12) rotate(31.48) scale(0.93 1)" dy="1.1">GrDUF4228-22</text><text transform="translate(465.8 395.31) rotate(32.44) scale(0.93 1)" dy="1.1">GhDUF4228-38</text><text transform="translate(463.76 398.46) rotate(33.39) scale(0.93 1)" dy="1.1">GhDUF4228-41</text><text transform="translate(461.67 401.58) rotate(34.35) scale(0.93 1)" dy="1.1">GbDUF4228-26</text><text transform="translate(459.52 404.66) rotate(35.3) scale(0.93 1)" dy="1.1">GbDUF4228-70</text><text transform="translate(457.33 407.71) rotate(36.25) scale(0.93 1)" dy="1.1">GaDUF4228-27</text><text transform="translate(455.08 410.72) rotate(37.21) scale(0.93 1)" dy="1.1">GrDUF4228-24</text><text transform="translate(452.78 413.69) rotate(38.16) scale(0.93 1)" dy="1.1">GhDUF4228-26</text><text transform="translate(450.44 416.63) rotate(39.12) scale(0.93 1)" dy="1.1">GhDUF4228-50</text><text transform="translate(448.04 419.52) rotate(40.07) scale(0.93 1)" dy="1.1">GbDUF4228-39</text><text transform="translate(445.6 422.38) rotate(41.02) scale(0.93 1)" dy="1.1">GbDUF4228-3</text><text transform="translate(443.11 425.19) rotate(41.98) scale(0.93 1)" dy="1.1">AtDUF4228-47</text><text transform="translate(440.58 427.96) rotate(42.93) scale(0.93 1)" dy="1.1">OsDUF4228-54</text><text transform="translate(437.99 430.69) rotate(43.89) scale(0.93 1)" dy="1.1">GaDUF4228-22</text><text transform="translate(435.37 433.38) rotate(44.84) scale(0.93 1)" dy="1.1">GrDUF4228-19</text><text transform="translate(432.7 436.02) rotate(45.79) scale(0.93 1)" dy="1.1">GhDUF4228-34</text><text transform="translate(429.98 438.62) rotate(46.75) scale(0.93 1)" dy="1.1">GhDUF4228-9</text><text transform="translate(427.23 441.17) rotate(47.7) scale(0.93 1)" dy="1.1">GbDUF4228-43</text><text transform="translate(424.43 443.67) rotate(48.66) scale(0.93 1)" dy="1.1">GbDUF4228-39</text><text transform="translate(421.59 446.13) rotate(49.61) scale(0.93 1)" dy="1.1">GaDUF4228-1</text><text transform="translate(418.7 448.54) rotate(50.56) scale(0.93 1)" dy="1.1">GrDUF4228-44</text><text transform="translate(415.78 450.9) rotate(51.52) scale(0.93 1)" dy="1.1">GhDUF4228-9</text><text transform="translate(412.82 453.21) rotate(52.47) scale(0.93 1)" dy="1.1">GhDUF4228-40</text><text transform="translate(409.82 455.48) rotate(53.43) scale(0.93 1)" dy="1.1">GbDUF4228-46</text><text transform="translate(406.79 457.69) rotate(54.38) scale(0.93 1)" dy="1.1">GbDUF4228-40</text><text transform="translate(403.72 459.85) rotate(55.33) scale(0.93 1)" dy="1.1">AtDUF4228-62</text><text transform="translate(400.61 461.96) rotate(56.29) scale(0.93 1)" dy="1.1">AtDUF4228-41</text><text transform="translate(397.47 464.02) rotate(57.24) scale(0.93 1)" dy="1.1">OsDUF4228-24</text><text transform="translate(394.29 466.03) rotate(58.2) scale(0.93 1)" dy="1.1">OsDUF4228-62</text><text transform="translate(391.08 467.98) rotate(59.15) scale(0.93 1)" dy="1.1">GaDUF4228-61</text><text transform="translate(387.84 469.88) rotate(60.1) scale(0.93 1)" dy="1.1">GrDUF4228-23</text><text transform="translate(384.57 471.73) rotate(61.06) scale(0.93 1)" dy="1.1">GhDUF4228-8</text><text transform="translate(381.27 473.52) rotate(62.01) scale(0.93 1)" dy="1.1">GhDUF4228-33</text><text transform="translate(377.94 475.25) rotate(62.97) scale(0.93 1)" dy="1.1">GbDUF4228-3</text><text transform="translate(374.58 476.93) rotate(63.92) scale(0.93 1)" dy="1.1">GbDUF4228-46</text><text transform="translate(371.19 478.55) rotate(64.87) scale(0.93 1)" dy="1.1">GaDUF4228-52</text><text transform="translate(367.77 480.12) rotate(65.83) scale(0.93 1)" dy="1.1">GrDUF4228-3</text><text transform="translate(364.33 481.63) rotate(66.78) scale(0.93 1)" dy="1.1">GhDUF4228-54</text><text transform="translate(360.87 483.08) rotate(67.74) scale(0.93 1)" dy="1.1">GhDUF4228-47</text><text transform="translate(357.38 484.48) rotate(68.69) scale(0.93 1)" dy="1.1">GbDUF4228-49</text><text transform="translate(353.87 485.81) rotate(69.65) scale(0.93 1)" dy="1.1">GbDUF4228-2</text><text transform="translate(350.34 487.09) rotate(70.6) scale(0.93 1)" dy="1.1">OsDUF4228-58</text><text transform="translate(346.78 488.31) rotate(71.55) scale(0.93 1)" dy="1.1">OsDUF4228-6</text><text transform="translate(343.21 489.47) rotate(72.51) scale(0.93 1)" dy="1.1">GaDUF4228-24</text><text transform="translate(339.62 490.57) rotate(73.46) scale(0.93 1)" dy="1.1">GrDUF4228-26</text><text transform="translate(336.01 491.61) rotate(74.42) scale(0.93 1)" dy="1.1">GhDUF4228-16</text><text transform="translate(332.38 492.58) rotate(75.37) scale(0.93 1)" dy="1.1">GhDUF4228-32</text><text transform="translate(328.74 493.5) rotate(76.32) scale(0.93 1)" dy="1.1">GbDUF4228-60</text><text transform="translate(325.08 494.36) rotate(77.28) scale(0.93 1)" dy="1.1">GbDUF4228-45</text><text transform="translate(321.41 495.16) rotate(78.23) scale(0.93 1)" dy="1.1">GaDUF4228-66</text><text transform="translate(317.73 495.89) rotate(79.19) scale(0.93 1)" dy="1.1">GhDUF4228-46</text><text transform="translate(314.03 496.57) rotate(80.14) scale(0.93 1)" dy="1.1">GbDUF4228-68</text><text transform="translate(310.33 497.18) rotate(81.09) scale(0.93 1)" dy="1.1">GaDUF4228-33</text><text transform="translate(306.61 497.73) rotate(82.05) scale(0.93 1)" dy="1.1">GrDUF4228-60</text><text transform="translate(302.89 498.22) rotate(83) scale(0.93 1)" dy="1.1">GhDUF4228-14</text><text transform="translate(299.15 498.65) rotate(83.96) scale(0.93 1)" dy="1.1">GhDUF4228-48</text><text transform="translate(295.42 499.01) rotate(84.91) scale(0.93 1)" dy="1.1">GbDUF4228-38</text><text transform="translate(291.67 499.31) rotate(85.86) scale(0.93 1)" dy="1.1">GbDUF4228-5</text><text transform="translate(287.92 499.55) rotate(86.82) scale(0.93 1)" dy="1.1">GaDUF4228-56</text><text transform="translate(284.17 499.73) rotate(87.77) scale(0.93 1)" dy="1.1">GrDUF4228-12</text><text transform="translate(280.42 499.84) rotate(88.73) scale(0.93 1)" dy="1.1">GhDUF4228-27</text><text transform="translate(276.66 499.9) rotate(89.68) scale(0.93 1)" dy="1.1">GhDUF4228-44</text><text transform="translate(272.89 501.29) rotate(270.63) scale(0.93 1)" text-anchor="end" dy="1.1">GbDUF4228-66</text><text transform="translate(269.11 501.21) rotate(271.59) scale(0.93 1)" text-anchor="end" dy="1.1">GbDUF4228-47</text><text transform="translate(265.33 501.08) rotate(272.54) scale(0.93 1)" text-anchor="end" dy="1.1">AtDUF4228-19</text><text transform="translate(261.56 500.88) rotate(273.5) scale(0.93 1)" text-anchor="end" dy="1.1">GaDUF4228-44</text><text transform="translate(257.79 500.62) rotate(274.45) scale(0.93 1)" text-anchor="end" dy="1.1">GrDUF4228-36</text><text transform="translate(254.02 500.29) rotate(275.4) scale(0.93 1)" text-anchor="end" dy="1.1">GhDUF4228-70</text><text transform="translate(250.26 499.9) rotate(276.36) scale(0.93 1)" text-anchor="end" dy="1.1">GbDUF4228-12</text><text transform="translate(246.51 499.45) rotate(277.31) scale(0.93 1)" text-anchor="end" dy="1.1">GbDUF4228-40</text><text transform="translate(242.76 498.94) rotate(278.27) scale(0.93 1)" text-anchor="end" dy="1.1">OsDUF4228-41</text><text transform="translate(239.03 498.37) rotate(279.22) scale(0.93 1)" text-anchor="end" dy="1.1">OsDUF4228-40</text><text transform="translate(235.3 497.73) rotate(280.17) scale(0.93 1)" text-anchor="end" dy="1.1">OsDUF4228-23</text><text transform="translate(231.59 497.03) rotate(281.13) scale(0.93 1)" text-anchor="end" dy="1.1">GrDUF4228-11</text><text transform="translate(227.88 496.27) rotate(282.08) scale(0.93 1)" text-anchor="end" dy="1.1">AtDUF4228-20</text><text transform="translate(224.19 495.45) rotate(283.04) scale(0.93 1)" text-anchor="end" dy="1.1">GaDUF4228-40</text><text transform="translate(220.52 494.57) rotate(283.99) scale(0.93 1)" text-anchor="end" dy="1.1">GhDUF4228-62</text><text transform="translate(216.86 493.62) rotate(284.94) scale(0.93 1)" text-anchor="end" dy="1.1">GrDUF4228-21</text><text transform="translate(213.22 492.62) rotate(285.9) scale(0.93 1)" text-anchor="end" dy="1.1">GaDUF4228-7</text><text transform="translate(209.59 491.55) rotate(286.85) scale(0.93 1)" text-anchor="end" dy="1.1">GaDUF4228-11</text><text transform="translate(205.98 490.42) rotate(287.81) scale(0.93 1)" text-anchor="end" dy="1.1">GrDUF4228-69</text><text transform="translate(202.39 489.24) rotate(288.76) scale(0.93 1)" text-anchor="end" dy="1.1">GhDUF4228-52</text><text transform="translate(198.82 487.99) rotate(289.72) scale(0.93 1)" text-anchor="end" dy="1.1">GhDUF4228-5</text><text transform="translate(195.28 486.69) rotate(290.67) scale(0.93 1)" text-anchor="end" dy="1.1">GhDUF4228-31</text><text transform="translate(191.75 485.33) rotate(291.62) scale(0.93 1)" text-anchor="end" dy="1.1">GhDUF4228-45</text><text transform="translate(188.25 483.9) rotate(292.58) scale(0.93 1)" text-anchor="end" dy="1.1">GbDUF4228-33</text><text transform="translate(184.77 482.42) rotate(293.53) scale(0.93 1)" text-anchor="end" dy="1.1">GbDUF4228-59</text><text transform="translate(181.32 480.89) rotate(294.49) scale(0.93 1)" text-anchor="end" dy="1.1">GbDUF4228-54</text><text transform="translate(177.89 479.29) rotate(295.44) scale(0.93 1)" text-anchor="end" dy="1.1">GbDUF4228-19</text><text transform="translate(174.49 477.64) rotate(296.39) scale(0.93 1)" text-anchor="end" dy="1.1">GaDUF4228-8</text><text transform="translate(171.12 475.93) rotate(297.35) scale(0.93 1)" text-anchor="end" dy="1.1">GrDUF4228-5</text><text transform="translate(167.78 474.17) rotate(298.3) scale(0.93 1)" text-anchor="end" dy="1.1">GhDUF4228-64</text><text transform="translate(164.46 472.35) rotate(299.26) scale(0.93 1)" text-anchor="end" dy="1.1">GhDUF4228-43</text><text transform="translate(161.18 470.47) rotate(300.21) scale(0.93 1)" text-anchor="end" dy="1.1">GbDUF4228-27</text><text transform="translate(157.93 468.54) rotate(301.16) scale(0.93 1)" text-anchor="end" dy="1.1">GbDUF4228-17</text><text transform="translate(154.71 466.56) rotate(302.12) scale(0.93 1)" text-anchor="end" dy="1.1">AtDUF4228-17</text><text transform="translate(151.53 464.52) rotate(303.07) scale(0.93 1)" text-anchor="end" dy="1.1">GaDUF4228-53</text><text transform="translate(148.38 462.43) rotate(304.03) scale(0.93 1)" text-anchor="end" dy="1.1">GhDUF4228-14</text><text transform="translate(145.26 460.29) rotate(304.98) scale(0.93 1)" text-anchor="end" dy="1.1">GbDUF4228-22</text><text transform="translate(142.19 458.1) rotate(305.93) scale(0.93 1)" text-anchor="end" dy="1.1">GrDUF4228-56</text><text transform="translate(139.14 455.86) rotate(306.89) scale(0.93 1)" text-anchor="end" dy="1.1">GhDUF4228-48</text><text transform="translate(136.14 453.56) rotate(307.84) scale(0.93 1)" text-anchor="end" dy="1.1">GbDUF4228-20</text><text transform="translate(133.17 451.22) rotate(308.8) scale(0.93 1)" text-anchor="end" dy="1.1">GaDUF4228-8</text><text transform="translate(130.25 448.83) rotate(309.75) scale(0.93 1)" text-anchor="end" dy="1.1">GrDUF4228-54</text><text transform="translate(127.36 446.39) rotate(310.7) scale(0.93 1)" text-anchor="end" dy="1.1">GhDUF4228-38</text><text transform="translate(124.52 443.9) rotate(311.66) scale(0.93 1)" text-anchor="end" dy="1.1">GhDUF4228-19</text><text transform="translate(121.71 441.36) rotate(312.61) scale(0.93 1)" text-anchor="end" dy="1.1">GbDUF4228-59</text><text transform="translate(118.95 438.78) rotate(313.57) scale(0.93 1)" text-anchor="end" dy="1.1">GbDUF4228-22</text><text transform="translate(116.24 436.15) rotate(314.52) scale(0.93 1)" text-anchor="end" dy="1.1">AtDUF4228-67</text><text transform="translate(113.56 433.48) rotate(315.47) scale(0.93 1)" text-anchor="end" dy="1.1">OsDUF4228-59</text><text transform="translate(110.94 430.76) rotate(316.43) scale(0.93 1)" text-anchor="end" dy="1.1">AtDUF4228-63</text><text transform="translate(108.35 428) rotate(317.38) scale(0.93 1)" text-anchor="end" dy="1.1">OsDUF4228-41</text><text transform="translate(105.82 425.2) rotate(318.34) scale(0.93 1)" text-anchor="end" dy="1.1">GaDUF4228-62</text><text transform="translate(103.33 422.36) rotate(319.29) scale(0.93 1)" text-anchor="end" dy="1.1">GrDUF4228-36</text><text transform="translate(100.89 419.47) rotate(320.24) scale(0.93 1)" text-anchor="end" dy="1.1">GhDUF4228-38</text><text transform="translate(98.49 416.54) rotate(321.2) scale(0.93 1)" text-anchor="end" dy="1.1">GhDUF4228-61</text><text transform="translate(96.15 413.58) rotate(322.15) scale(0.93 1)" text-anchor="end" dy="1.1">GbDUF4228-52</text><text transform="translate(93.86 410.57) rotate(323.11) scale(0.93 1)" text-anchor="end" dy="1.1">GbDUF4228-19</text><text transform="translate(91.61 407.53) rotate(324.06) scale(0.93 1)" text-anchor="end" dy="1.1">OsDUF4228-15</text><text transform="translate(89.42 404.45) rotate(325.01) scale(0.93 1)" text-anchor="end" dy="1.1">OsDUF4228-49</text><text transform="translate(87.28 401.34) rotate(325.97) scale(0.93 1)" text-anchor="end" dy="1.1">OsDUF4228-69</text><text transform="translate(85.19 398.19) rotate(326.92) scale(0.93 1)" text-anchor="end" dy="1.1">AtDUF4228-23</text><text transform="translate(83.15 395.01) rotate(327.88) scale(0.93 1)" text-anchor="end" dy="1.1">AtDUF4228-64</text><text transform="translate(81.17 391.79) rotate(328.83) scale(0.93 1)" text-anchor="end" dy="1.1">GrDUF4228-44</text><text transform="translate(79.24 388.54) rotate(329.78) scale(0.93 1)" text-anchor="end" dy="1.1">GhDUF4228-24</text><text transform="translate(77.36 385.26) rotate(330.74) scale(0.93 1)" text-anchor="end" dy="1.1">GbDUF4228-12</text><text transform="translate(75.54 381.94) rotate(331.69) scale(0.93 1)" text-anchor="end" dy="1.1">GaDUF4228-63</text><text transform="translate(73.78 378.6) rotate(332.65) scale(0.93 1)" text-anchor="end" dy="1.1">GhDUF4228-35</text><text transform="translate(72.07 375.23) rotate(333.6) scale(0.93 1)" text-anchor="end" dy="1.1">GbDUF4228-66</text><text transform="translate(70.42 371.83) rotate(334.56) scale(0.93 1)" text-anchor="end" dy="1.1">GaDUF4228-65</text><text transform="translate(68.82 368.4) rotate(335.51) scale(0.93 1)" text-anchor="end" dy="1.1">GrDUF4228-47</text><text transform="translate(67.29 364.95) rotate(336.46) scale(0.93 1)" text-anchor="end" dy="1.1">GhDUF4228-9</text><text transform="translate(65.81 361.47) rotate(337.42) scale(0.93 1)" text-anchor="end" dy="1.1">GhDUF4228-46</text><text transform="translate(64.38 357.97) rotate(338.37) scale(0.93 1)" text-anchor="end" dy="1.1">GbDUF4228-5</text><text transform="translate(63.02 354.45) rotate(339.33) scale(0.93 1)" text-anchor="end" dy="1.1">GbDUF4228-40</text><text transform="translate(61.71 350.9) rotate(340.28) scale(0.93 1)" text-anchor="end" dy="1.1">OsDUF4228-47</text><text transform="translate(60.47 347.33) rotate(341.23) scale(0.93 1)" text-anchor="end" dy="1.1">GaDUF4228-36</text><text transform="translate(59.28 343.74) rotate(342.19) scale(0.93 1)" text-anchor="end" dy="1.1">GhDUF4228-63</text><text transform="translate(58.16 340.13) rotate(343.14) scale(0.93 1)" text-anchor="end" dy="1.1">GbDUF4228-34</text><text transform="translate(57.09 336.51) rotate(344.1) scale(0.93 1)" text-anchor="end" dy="1.1">GaDUF4228-38</text><text transform="translate(56.08 332.86) rotate(345.05) scale(0.93 1)" text-anchor="end" dy="1.1">GrDUF4228-44</text><text transform="translate(55.14 329.2) rotate(346) scale(0.93 1)" text-anchor="end" dy="1.1">GrDUF4228-23</text><text transform="translate(54.26 325.53) rotate(346.96) scale(0.93 1)" text-anchor="end" dy="1.1">GhDUF4228-2</text><text transform="translate(53.43 321.84) rotate(347.91) scale(0.93 1)" text-anchor="end" dy="1.1">GhDUF4228-61</text><text transform="translate(52.67 318.14) rotate(348.87) scale(0.93 1)" text-anchor="end" dy="1.1">GbDUF4228-33</text><text transform="translate(51.97 314.42) rotate(349.82) scale(0.93 1)" text-anchor="end" dy="1.1">GbDUF4228-42</text><text transform="translate(51.34 310.7) rotate(350.77) scale(0.93 1)" text-anchor="end" dy="1.1">GbDUF4228-36</text><text transform="translate(50.76 306.96) rotate(351.73) scale(0.93 1)" text-anchor="end" dy="1.1">GaDUF4228-60</text><text transform="translate(50.25 303.21) rotate(352.68) scale(0.93 1)" text-anchor="end" dy="1.1">GrDUF4228-37</text><text transform="translate(49.8 299.46) rotate(353.64) scale(0.93 1)" text-anchor="end" dy="1.1">GhDUF4228-65</text><text transform="translate(49.41 295.7) rotate(354.59) scale(0.93 1)" text-anchor="end" dy="1.1">GhDUF4228-46</text><text transform="translate(49.09 291.94) rotate(355.54) scale(0.93 1)" text-anchor="end" dy="1.1">GhDUF4228-45</text><text transform="translate(48.82 288.17) rotate(356.5) scale(0.93 1)" text-anchor="end" dy="1.1">GhDUF4228-36</text><text transform="translate(48.62 284.39) rotate(357.45) scale(0.93 1)" text-anchor="end" dy="1.1">GbDUF4228-45</text><text transform="translate(48.49 280.61) rotate(358.41) scale(0.93 1)" text-anchor="end" dy="1.1">GbDUF4228-53</text><text transform="translate(48.41 276.83) rotate(359.36) scale(0.93 1)" text-anchor="end" dy="1.1">GbDUF4228-45</text><text transform="translate(48.4 273.05) rotate(360.31) scale(0.93 1)" text-anchor="end" dy="1.1">GbDUF4228-23</text><text transform="translate(48.46 269.28) rotate(361.27) scale(0.93 1)" text-anchor="end" dy="1.1">GaDUF4228-58</text><text transform="translate(48.57 265.5) rotate(362.22) scale(0.93 1)" text-anchor="end" dy="1.1">GaDUF4228-47</text><text transform="translate(48.75 261.72) rotate(363.18) scale(0.93 1)" text-anchor="end" dy="1.1">GhDUF4228-43</text><text transform="translate(48.99 257.95) rotate(364.13) scale(0.93 1)" text-anchor="end" dy="1.1">GbDUF4228-67</text><text transform="translate(49.29 254.18) rotate(365.08) scale(0.93 1)" text-anchor="end" dy="1.1">GaDUF4228-19</text><text transform="translate(49.66 250.42) rotate(366.04) scale(0.93 1)" text-anchor="end" dy="1.1">GrDUF4228-68</text><text transform="translate(50.09 246.66) rotate(366.99) scale(0.93 1)" text-anchor="end" dy="1.1">GhDUF4228-22</text><text transform="translate(50.58 242.92) rotate(367.95) scale(0.93 1)" text-anchor="end" dy="1.1">GhDUF4228-26</text><text transform="translate(51.13 239.18) rotate(368.9) scale(0.93 1)" text-anchor="end" dy="1.1">GbDUF4228-47</text><text transform="translate(51.75 235.45) rotate(369.85) scale(0.93 1)" text-anchor="end" dy="1.1">GbDUF4228-62</text><text transform="translate(52.43 231.73) rotate(370.81) scale(0.93 1)" text-anchor="end" dy="1.1">GrDUF4228-37</text><text transform="translate(53.17 228.02) rotate(371.76) scale(0.93 1)" text-anchor="end" dy="1.1">GhDUF4228-11</text><text transform="translate(53.97 224.33) rotate(372.72) scale(0.93 1)" text-anchor="end" dy="1.1">GbDUF4228-54</text><text transform="translate(54.83 220.65) rotate(373.67) scale(0.93 1)" text-anchor="end" dy="1.1">AtDUF4228-22</text><text transform="translate(55.75 216.98) rotate(374.62) scale(0.93 1)" text-anchor="end" dy="1.1">AtDUF4228-67</text><text transform="translate(56.74 213.34) rotate(375.58) scale(0.93 1)" text-anchor="end" dy="1.1">GaDUF4228-54</text><text transform="translate(57.79 209.7) rotate(376.53) scale(0.93 1)" text-anchor="end" dy="1.1">GhDUF4228-39</text><text transform="translate(58.89 206.09) rotate(377.49) scale(0.93 1)" text-anchor="end" dy="1.1">GhDUF4228-35</text><text transform="translate(60.06 202.49) rotate(378.44) scale(0.93 1)" text-anchor="end" dy="1.1">GbDUF4228-4</text><text transform="translate(61.28 198.92) rotate(379.4) scale(0.93 1)" text-anchor="end" dy="1.1">GbDUF4228-26</text><text transform="translate(62.57 195.36) rotate(380.35) scale(0.93 1)" text-anchor="end" dy="1.1">GaDUF4228-21</text><text transform="translate(63.91 191.83) rotate(381.3) scale(0.93 1)" text-anchor="end" dy="1.1">GrDUF4228-57</text><text transform="translate(65.31 188.32) rotate(382.26) scale(0.93 1)" text-anchor="end" dy="1.1">GhDUF4228-24</text><text transform="translate(66.77 184.83) rotate(383.21) scale(0.93 1)" text-anchor="end" dy="1.1">GhDUF4228-29</text><text transform="translate(68.29 181.37) rotate(384.17) scale(0.93 1)" text-anchor="end" dy="1.1">GbDUF4228-24</text><text transform="translate(69.87 177.94) rotate(385.12) scale(0.93 1)" text-anchor="end" dy="1.1">GbDUF4228-6</text><text transform="translate(71.5 174.53) rotate(386.07) scale(0.93 1)" text-anchor="end" dy="1.1">GaDUF4228-61</text><text transform="translate(73.19 171.15) rotate(387.03) scale(0.93 1)" text-anchor="end" dy="1.1">GrDUF4228-29</text><text transform="translate(74.94 167.79) rotate(387.98) scale(0.93 1)" text-anchor="end" dy="1.1">GhDUF4228-22</text><text transform="translate(76.74 164.47) rotate(388.94) scale(0.93 1)" text-anchor="end" dy="1.1">GhDUF4228-7</text><text transform="translate(78.59 161.18) rotate(389.89) scale(0.93 1)" text-anchor="end" dy="1.1">GbDUF4228-18</text><text transform="translate(80.5 157.92) rotate(390.84) scale(0.93 1)" text-anchor="end" dy="1.1">OsDUF4228-15</text><text transform="translate(82.47 154.69) rotate(391.8) scale(0.93 1)" text-anchor="end" dy="1.1">OsDUF4228-41</text><text transform="translate(84.49 151.49) rotate(392.75) scale(0.93 1)" text-anchor="end" dy="1.1">AtDUF4228-24</text><text transform="translate(86.56 148.33) rotate(393.71) scale(0.93 1)" text-anchor="end" dy="1.1">GaDUF4228-62</text><text transform="translate(88.68 145.2) rotate(394.66) scale(0.93 1)" text-anchor="end" dy="1.1">GrDUF4228-25</text><text transform="translate(90.86 142.11) rotate(395.61) scale(0.93 1)" text-anchor="end" dy="1.1">GrDUF4228-5</text><text transform="translate(93.08 139.06) rotate(396.57) scale(0.93 1)" text-anchor="end" dy="1.1">GhDUF4228-54</text><text transform="translate(95.36 136.04) rotate(397.52) scale(0.93 1)" text-anchor="end" dy="1.1">GhDUF4228-60</text><text transform="translate(97.69 133.06) rotate(398.48) scale(0.93 1)" text-anchor="end" dy="1.1">GhDUF4228-45</text><text transform="translate(100.07 130.12) rotate(399.43) scale(0.93 1)" text-anchor="end" dy="1.1">GbDUF4228-49</text><text transform="translate(102.49 127.22) rotate(400.38) scale(0.93 1)" text-anchor="end" dy="1.1">GbDUF4228-10</text><text transform="translate(104.96 124.37) rotate(401.34) scale(0.93 1)" text-anchor="end" dy="1.1">GbDUF4228-27</text><text transform="translate(107.48 121.55) rotate(402.29) scale(0.93 1)" text-anchor="end" dy="1.1">GaDUF4228-31</text><text transform="translate(110.05 118.77) rotate(403.25) scale(0.93 1)" text-anchor="end" dy="1.1">GhDUF4228-48</text><text transform="translate(112.66 116.04) rotate(404.2) scale(0.93 1)" text-anchor="end" dy="1.1">GbDUF4228-1</text><text transform="translate(115.32 113.36) rotate(405.15) scale(0.93 1)" text-anchor="end" dy="1.1">GaDUF4228-45</text><text transform="translate(118.02 110.71) rotate(406.11) scale(0.93 1)" text-anchor="end" dy="1.1">GrDUF4228-52</text><text transform="translate(120.77 108.11) rotate(407.06) scale(0.93 1)" text-anchor="end" dy="1.1">GhDUF4228-36</text><text transform="translate(123.56 105.56) rotate(408.02) scale(0.93 1)" text-anchor="end" dy="1.1">GhDUF4228-53</text><text transform="translate(126.39 103.06) rotate(408.97) scale(0.93 1)" text-anchor="end" dy="1.1">GbDUF4228-15</text><text transform="translate(129.26 100.6) rotate(409.92) scale(0.93 1)" text-anchor="end" dy="1.1">GbDUF4228-48</text><text transform="translate(132.17 98.19) rotate(410.88) scale(0.93 1)" text-anchor="end" dy="1.1">GaDUF4228-5</text><text transform="translate(135.12 95.83) rotate(411.83) scale(0.93 1)" text-anchor="end" dy="1.1">GrDUF4228-39</text><text transform="translate(138.11 93.52) rotate(412.79) scale(0.93 1)" text-anchor="end" dy="1.1">GhDUF4228-13</text><text transform="translate(141.14 91.26) rotate(413.74) scale(0.93 1)" text-anchor="end" dy="1.1">GhDUF4228-38</text><text transform="translate(144.21 89.05) rotate(414.69) scale(0.93 1)" text-anchor="end" dy="1.1">GbDUF4228-70</text><text transform="translate(147.31 86.89) rotate(415.65) scale(0.93 1)" text-anchor="end" dy="1.1">GbDUF4228-66</text><text transform="translate(150.45 84.78) rotate(416.6) scale(0.93 1)" text-anchor="end" dy="1.1">AtDUF4228-44</text><text transform="translate(153.62 82.73) rotate(417.56) scale(0.93 1)" text-anchor="end" dy="1.1">OsDUF4228-38</text><text transform="translate(156.83 80.73) rotate(418.51) scale(0.93 1)" text-anchor="end" dy="1.1">OsDUF4228-46</text><text transform="translate(160.07 78.78) rotate(419.46) scale(0.93 1)" text-anchor="end" dy="1.1">OsDUF4228-17</text><text transform="translate(163.34 76.89) rotate(420.42) scale(0.93 1)" text-anchor="end" dy="1.1">OsDUF4228-54</text><text transform="translate(166.64 75.05) rotate(421.37) scale(0.93 1)" text-anchor="end" dy="1.1">GaDUF4228-53</text><text transform="translate(169.98 73.27) rotate(422.33) scale(0.93 1)" text-anchor="end" dy="1.1">GrDUF4228-69</text><text transform="translate(173.34 71.54) rotate(423.28) scale(0.93 1)" text-anchor="end" dy="1.1">GhDUF4228-48</text><text transform="translate(176.73 69.87) rotate(424.24) scale(0.93 1)" text-anchor="end" dy="1.1">GhDUF4228-60</text><text transform="translate(180.15 68.25) rotate(425.19) scale(0.93 1)" text-anchor="end" dy="1.1">GaDUF4228-19</text><text transform="translate(183.59 66.69) rotate(426.14) scale(0.93 1)" text-anchor="end" dy="1.1">GrDUF4228-21</text><text transform="translate(187.06 65.2) rotate(427.1) scale(0.93 1)" text-anchor="end" dy="1.1">GhDUF4228-49</text><text transform="translate(190.55 63.75) rotate(428.05) scale(0.93 1)" text-anchor="end" dy="1.1">GhDUF4228-62</text><text transform="translate(194.07 62.37) rotate(429.01) scale(0.93 1)" text-anchor="end" dy="1.1">GbDUF4228-26</text><text transform="translate(197.61 61.04) rotate(429.96) scale(0.93 1)" text-anchor="end" dy="1.1">GbDUF4228-18</text><text transform="translate(201.17 59.78) rotate(430.91) scale(0.93 1)" text-anchor="end" dy="1.1">GaDUF4228-12</text><text transform="translate(204.75 58.57) rotate(431.87) scale(0.93 1)" text-anchor="end" dy="1.1">GhDUF4228-45</text><text transform="translate(208.36 57.43) rotate(432.82) scale(0.93 1)" text-anchor="end" dy="1.1">GbDUF4228-1</text><text transform="translate(211.98 56.34) rotate(433.78) scale(0.93 1)" text-anchor="end" dy="1.1">GrDUF4228-49</text><text transform="translate(215.61 55.31) rotate(434.73) scale(0.93 1)" text-anchor="end" dy="1.1">GhDUF4228-14</text><text transform="translate(219.27 54.35) rotate(435.68) scale(0.93 1)" text-anchor="end" dy="1.1">GbDUF4228-42</text><text transform="translate(222.94 53.45) rotate(436.64) scale(0.93 1)" text-anchor="end" dy="1.1">GaDUF4228-70</text><text transform="translate(226.62 52.6) rotate(437.59) scale(0.93 1)" text-anchor="end" dy="1.1">GrDUF4228-19</text><text transform="translate(230.32 51.82) rotate(438.55) scale(0.93 1)" text-anchor="end" dy="1.1">GhDUF4228-42</text><text transform="translate(234.03 51.1) rotate(439.5) scale(0.93 1)" text-anchor="end" dy="1.1">GhDUF4228-49</text><text transform="translate(237.75 50.44) rotate(440.45) scale(0.93 1)" text-anchor="end" dy="1.1">GbDUF4228-55</text><text transform="translate(241.49 49.85) rotate(441.41) scale(0.93 1)" text-anchor="end" dy="1.1">GbDUF4228-56</text><text transform="translate(245.23 49.31) rotate(442.36) scale(0.93 1)" text-anchor="end" dy="1.1">GaDUF4228-29</text><text transform="translate(248.98 48.84) rotate(443.32) scale(0.93 1)" text-anchor="end" dy="1.1">GrDUF4228-64</text><text transform="translate(252.74 48.43) rotate(444.27) scale(0.93 1)" text-anchor="end" dy="1.1">GhDUF4228-38</text><text transform="translate(256.5 48.09) rotate(445.22) scale(0.93 1)" text-anchor="end" dy="1.1">GhDUF4228-62</text><text transform="translate(260.27 47.8) rotate(446.18) scale(0.93 1)" text-anchor="end" dy="1.1">GbDUF4228-49</text><text transform="translate(264.04 47.58) rotate(447.13) scale(0.93 1)" text-anchor="end" dy="1.1">GbDUF4228-50</text><text transform="translate(267.82 47.43) rotate(448.09) scale(0.93 1)" text-anchor="end" dy="1.1">AtDUF4228-21</text><text transform="translate(271.6 47.33) rotate(449.04) scale(0.93 1)" text-anchor="end" dy="1.1">AtDUF4228-34</text><text transform="translate(275.38 47.3) rotate(449.99) scale(0.93 1)" text-anchor="end" dy="1.1">OsDUF4228-39</text><text transform="translate(279.13 48.73) rotate(270.95) scale(0.93 1)" dy="1.1">OsDUF4228-64</text><text transform="translate(282.89 48.82) rotate(271.9) scale(0.93 1)" dy="1.1">GaDUF4228-33</text><text transform="translate(286.64 48.98) rotate(272.86) scale(0.93 1)" dy="1.1">GrDUF4228-54</text><text transform="translate(290.39 49.2) rotate(273.81) scale(0.93 1)" dy="1.1">GhDUF4228-3</text><text transform="translate(294.14 49.48) rotate(274.76) scale(0.93 1)" dy="1.1">GhDUF4228-41</text><text transform="translate(297.88 49.82) rotate(275.72) scale(0.93 1)" dy="1.1">GbDUF4228-40</text><text transform="translate(301.61 50.23) rotate(276.67) scale(0.93 1)" dy="1.1">GaDUF4228-63</text><text transform="translate(305.34 50.7) rotate(277.63) scale(0.93 1)" dy="1.1">GrDUF4228-37</text><text transform="translate(309.06 51.23) rotate(278.58) scale(0.93 1)" dy="1.1">GhDUF4228-19</text><text transform="translate(312.77 51.82) rotate(279.53) scale(0.93 1)" dy="1.1">GhDUF4228-62</text><text transform="translate(316.47 52.47) rotate(280.49) scale(0.93 1)" dy="1.1">GbDUF4228-4</text><text transform="translate(320.16 53.18) rotate(281.44) scale(0.93 1)" dy="1.1">GbDUF4228-16</text><text transform="translate(323.83 53.96) rotate(282.4) scale(0.93 1)" dy="1.1">GbDUF4228-57</text><text transform="translate(327.49 54.8) rotate(283.35) scale(0.93 1)" dy="1.1">GaDUF4228-32</text><text transform="translate(331.14 55.69) rotate(284.31) scale(0.93 1)" dy="1.1">GbDUF4228-38</text><text transform="translate(334.77 56.65) rotate(285.26) scale(0.93 1)" dy="1.1">GrDUF4228-6</text><text transform="translate(338.39 57.67) rotate(286.21) scale(0.93 1)" dy="1.1">GhDUF4228-18</text><text transform="translate(341.99 58.75) rotate(287.17) scale(0.93 1)" dy="1.1">GbDUF4228-51</text><text transform="translate(345.57 59.89) rotate(288.12) scale(0.93 1)" dy="1.1">GaDUF4228-2</text><text transform="translate(349.13 61.09) rotate(289.08) scale(0.93 1)" dy="1.1">GrDUF4228-62</text><text transform="translate(352.67 62.34) rotate(290.03) scale(0.93 1)" dy="1.1">GhDUF4228-69</text><text transform="translate(356.19 63.66) rotate(290.98) scale(0.93 1)" dy="1.1">GhDUF4228-36</text><text transform="translate(359.68 65.04) rotate(291.94) scale(0.93 1)" dy="1.1">GbDUF4228-32</text><text transform="translate(363.16 66.47) rotate(292.89) scale(0.93 1)" dy="1.1">GbDUF4228-61</text><text transform="translate(366.6 67.96) rotate(293.85) scale(0.93 1)" dy="1.1">GaDUF4228-5</text><text transform="translate(370.03 69.5) rotate(294.8) scale(0.93 1)" dy="1.1">GaDUF4228-32</text><text transform="translate(373.42 71.11) rotate(295.75) scale(0.93 1)" dy="1.1">GaDUF4228-63</text><text transform="translate(376.79 72.77) rotate(296.71) scale(0.93 1)" dy="1.1">GrDUF4228-35</text><text transform="translate(380.13 74.49) rotate(297.66) scale(0.93 1)" dy="1.1">GrDUF4228-20</text><text transform="translate(383.45 76.26) rotate(298.62) scale(0.93 1)" dy="1.1">GrDUF4228-37</text><text transform="translate(386.73 78.08) rotate(299.57) scale(0.93 1)" dy="1.1">GhDUF4228-38</text><text transform="translate(389.98 79.96) rotate(300.52) scale(0.93 1)" dy="1.1">GhDUF4228-64</text><text transform="translate(393.2 81.9) rotate(301.48) scale(0.93 1)" dy="1.1">GhDUF4228-61</text><text transform="translate(396.39 83.89) rotate(302.43) scale(0.93 1)" dy="1.1">GhDUF4228-67</text><text transform="translate(399.54 85.93) rotate(303.39) scale(0.93 1)" dy="1.1">GhDUF4228-16</text><text transform="translate(402.66 88.02) rotate(304.34) scale(0.93 1)" dy="1.1">GhDUF4228-3</text><text transform="translate(405.75 90.17) rotate(305.29) scale(0.93 1)" dy="1.1">GbDUF4228-17</text><text transform="translate(408.79 92.36) rotate(306.25) scale(0.93 1)" dy="1.1">GbDUF4228-39</text><text transform="translate(411.8 94.61) rotate(307.2) scale(0.93 1)" dy="1.1">GbDUF4228-37</text><text transform="translate(414.78 96.9) rotate(308.16) scale(0.93 1)" dy="1.1">GbDUF4228-69</text><text transform="translate(417.71 99.25) rotate(309.11) scale(0.93 1)" dy="1.1">GbDUF4228-44</text><text transform="translate(420.61 101.64) rotate(310.06) scale(0.93 1)" dy="1.1">GbDUF4228-38</text><text transform="translate(423.46 104.08) rotate(311.02) scale(0.93 1)" dy="1.1">AtDUF4228-68</text><text transform="translate(426.27 106.57) rotate(311.97) scale(0.93 1)" dy="1.1">AtDUF4228-4</text><text transform="translate(429.05 109.11) rotate(312.93) scale(0.93 1)" dy="1.1">OsDUF4228-60</text><text transform="translate(431.78 111.69) rotate(313.88) scale(0.93 1)" dy="1.1">GaDUF4228-45</text><text transform="translate(434.46 114.32) rotate(314.83) scale(0.93 1)" dy="1.1">GrDUF4228-47</text><text transform="translate(437.1 116.99) rotate(315.79) scale(0.93 1)" dy="1.1">GhDUF4228-17</text><text transform="translate(439.7 119.7) rotate(316.74) scale(0.93 1)" dy="1.1">GhDUF4228-5</text><text transform="translate(442.25 122.46) rotate(317.7) scale(0.93 1)" dy="1.1">GbDUF4228-1</text><text transform="translate(444.76 125.26) rotate(318.65) scale(0.93 1)" dy="1.1">GbDUF4228-33</text><text transform="translate(447.21 128.1) rotate(319.6) scale(0.93 1)" dy="1.1">OsDUF4228-59</text><text transform="translate(449.63 130.98) rotate(320.56) scale(0.93 1)" dy="1.1">OsDUF4228-14</text><text transform="translate(451.99 133.9) rotate(321.51) scale(0.93 1)" dy="1.1">OsDUF4228-70</text><text transform="translate(454.3 136.86) rotate(322.47) scale(0.93 1)" dy="1.1">AtDUF4228-25</text><text transform="translate(456.56 139.86) rotate(323.42) scale(0.93 1)" dy="1.1">OsDUF4228-2</text><text transform="translate(458.78 142.89) rotate(324.37) scale(0.93 1)" dy="1.1">OsDUF4228-55</text><text transform="translate(460.94 145.96) rotate(325.33) scale(0.93 1)" dy="1.1">AtDUF4228-55</text><text transform="translate(463.05 149.07) rotate(326.28) scale(0.93 1)" dy="1.1">OsDUF4228-62</text><text transform="translate(465.11 152.21) rotate(327.24) scale(0.93 1)" dy="1.1">GaDUF4228-50</text><text transform="translate(467.12 155.39) rotate(328.19) scale(0.93 1)" dy="1.1">GrDUF4228-61</text><text transform="translate(469.07 158.6) rotate(329.15) scale(0.93 1)" dy="1.1">GhDUF4228-51</text><text transform="translate(470.97 161.84) rotate(330.1) scale(0.93 1)" dy="1.1">GhDUF4228-26</text><text transform="translate(472.82 165.11) rotate(331.05) scale(0.93 1)" dy="1.1">GbDUF4228-38</text><text transform="translate(474.61 168.41) rotate(332.01) scale(0.93 1)" dy="1.1">GbDUF4228-60</text><text transform="translate(476.34 171.74) rotate(332.96) scale(0.93 1)" dy="1.1">GaDUF4228-9</text><text transform="translate(478.02 175.1) rotate(333.92) scale(0.93 1)" dy="1.1">GrDUF4228-39</text><text transform="translate(479.65 178.49) rotate(334.87) scale(0.93 1)" dy="1.1">GhDUF4228-1</text><text transform="translate(481.21 181.91) rotate(335.82) scale(0.93 1)" dy="1.1">GhDUF4228-56</text><text transform="translate(482.72 185.35) rotate(336.78) scale(0.93 1)" dy="1.1">GbDUF4228-37</text><text transform="translate(484.17 188.81) rotate(337.73) scale(0.93 1)" dy="1.1">GbDUF4228-61</text><text transform="translate(485.57 192.3) rotate(338.69) scale(0.93 1)" dy="1.1">AtDUF4228-40</text><text transform="translate(486.91 195.81) rotate(339.64) scale(0.93 1)" dy="1.1">GhDUF4228-19</text><text transform="translate(488.18 199.34) rotate(340.59) scale(0.93 1)" dy="1.1">GbDUF4228-22</text><text transform="translate(489.4 202.89) rotate(341.55) scale(0.93 1)" dy="1.1">GhDUF4228-62</text><text transform="translate(490.56 206.47) rotate(342.5) scale(0.93 1)" dy="1.1">GbDUF4228-64</text><text transform="translate(491.66 210.06) rotate(343.46) scale(0.93 1)" dy="1.1">GaDUF4228-43</text><text transform="translate(492.7 213.67) rotate(344.41) scale(0.93 1)" dy="1.1">GhDUF4228-69</text><text transform="translate(493.68 217.3) rotate(345.36) scale(0.93 1)" dy="1.1">GhDUF4228-20</text><text transform="translate(494.6 220.94) rotate(346.32) scale(0.93 1)" dy="1.1">GbDUF4228-55</text><text transform="translate(495.46 224.59) rotate(347.27) scale(0.93 1)" dy="1.1">GbDUF4228-70</text><text transform="translate(496.25 228.27) rotate(348.23) scale(0.93 1)" dy="1.1">GrDUF4228-7</text><text transform="translate(496.99 231.95) rotate(349.18) scale(0.93 1)" dy="1.1">AtDUF4228-9</text></g>
<g font-family="Liberation Serif, serif" font-size="8.2" fill="#1a1a1a" stroke="#1a1a1a" stroke-width="0.25" text-anchor="middle">
<text transform="translate(264.06 14.55) rotate(357.5)" dy="2.9">GROUP-D</text>
<text transform="translate(476.7 108.95) rotate(50.3)" dy="2.9">GROUP-E</text>
<text transform="translate(533.65 293.99) rotate(-85.6)" dy="2.9">GROUP-A</text>
<text transform="translate(443.65 472) rotate(-40.4)" dy="2.9">GROUP-B</text>
<text transform="translate(21.66 330.55) rotate(257.5)" dy="2.9">GROUP-C</text>
</g>
<rect x="468.7" y="474.6" width="70.6" height="65.6" fill="#e7e7e7"/>
<path d="M474.8 477.6L478.3 483.2H471.3Z" fill="#1a8ee8" stroke="#113" stroke-width="0.6"/><circle cx="474.7" cy="491.3" r="2.8" fill="#f0e46a" stroke="#554" stroke-width="0.6"/><rect x="472" y="499.6" width="5.6" height="5.6" rx="1.3" fill="#fff" stroke="#bff5d5" stroke-width="0.6"/><rect x="472" y="510.3" width="5.6" height="5.6" rx="1.3" fill="#45e890" stroke="#164" stroke-width="0.6"/><polygon points="474.8,521.5 475.68,523.29 477.65,523.57 476.23,524.96 476.56,526.93 474.8,526 473.04,526.93 473.37,524.96 471.95,523.57 473.92,523.29" fill="#fff" stroke="#f4a890" stroke-width="0.6"/><polygon points="474.8,532.4 475.68,534.19 477.65,534.47 476.23,535.86 476.56,537.83 474.8,536.9 473.04,537.83 473.37,535.86 471.95,534.47 473.92,534.19" fill="#e0583a" stroke="#333" stroke-width="0.6"/>
<g font-family="Liberation Serif, serif" font-style="italic" font-size="6.3" fill="#2a2a2a" stroke="#2a2a2a" stroke-width="0.05">
<text transform="translate(480.8 482.9) scale(0.88 1)">Arabidopsis thaliana</text>
<text transform="translate(480.8 493.8) scale(0.88 1)">Oryza sativa</text>
<text transform="translate(480.8 504.9) scale(0.88 1)">Gossypium arboreum</text>
<text transform="translate(480.8 515.5) scale(0.88 1)">Gossypium raimondii</text>
<text transform="translate(480.8 526.8) scale(0.88 1)">Gossypium hirsutum</text>
<text transform="translate(480.8 537.7) scale(0.88 1)">Gossypium barbadense</text>
</g>
</svg></body></html>
